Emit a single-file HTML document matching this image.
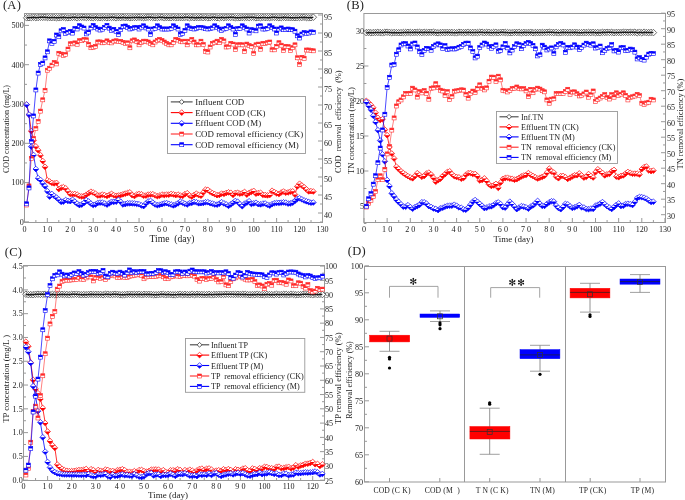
<!DOCTYPE html>
<html><head><meta charset="utf-8"><style>
html,body{margin:0;padding:0;background:#fff;width:685px;height:500px;overflow:hidden}
svg{display:block;will-change:transform}
text{font-family:"Liberation Serif",serif;white-space:pre}
</style></head><body>
<svg width="685" height="500" viewBox="0 0 685 500" font-family='"Liberation Serif", serif'>
<rect width="685" height="500" fill="#fff"/>
<defs><marker id="dR" markerUnits="userSpaceOnUse" markerWidth="10" markerHeight="10" refX="0" refY="0" overflow="visible" viewBox="-5 -5 10 10"><path d="M-2.85 0L0 -2.85L2.85 0L0 2.85Z" fill="#fff" stroke="#ff0000" stroke-width="0.7"/><path d="M-2.85 0L0 2.85L2.85 0Z" fill="#ff0000"/></marker><marker id="dB" markerUnits="userSpaceOnUse" markerWidth="10" markerHeight="10" refX="0" refY="0" overflow="visible" viewBox="-5 -5 10 10"><path d="M-2.85 0L0 -2.85L2.85 0L0 2.85Z" fill="#fff" stroke="#0000ff" stroke-width="0.7"/><path d="M-2.85 0L0 2.85L2.85 0Z" fill="#0000ff"/></marker><marker id="sR" markerUnits="userSpaceOnUse" markerWidth="10" markerHeight="10" refX="0" refY="0" overflow="visible" viewBox="-5 -5 10 10"><rect x="-2" y="-2" width="4" height="4" fill="#fff" stroke="#ff2a2a" stroke-width="0.6"/><rect x="-2" y="-2" width="4" height="1.9" fill="#ff2a2a"/></marker><marker id="sB" markerUnits="userSpaceOnUse" markerWidth="10" markerHeight="10" refX="0" refY="0" overflow="visible" viewBox="-5 -5 10 10"><rect x="-2" y="-2" width="4" height="4" fill="#fff" stroke="#0000ff" stroke-width="0.6"/><rect x="-2" y="-2" width="4" height="1.9" fill="#0000ff"/></marker><marker id="o" markerUnits="userSpaceOnUse" markerWidth="10" markerHeight="10" refX="0" refY="0" overflow="visible" viewBox="-5 -5 10 10"><path d="M-3.3 0L0 -3.3L3.3 0L0 3.3Z" fill="#fff" stroke="#4a4a4a" stroke-width="0.8"/></marker><marker id="ol" markerUnits="userSpaceOnUse" markerWidth="10" markerHeight="10" refX="0" refY="0" overflow="visible" viewBox="-5 -5 10 10"><path d="M-2.4 0L0 -2.4L2.4 0L0 2.4Z" fill="#fff" stroke="#333" stroke-width="0.8"/></marker></defs>
<rect x="24.5" y="13.5" width="298" height="209" stroke="#999" fill="none" stroke-width="1"/>
<line x1="24.4" y1="222.5" x2="24.4" y2="218" stroke="#999" stroke-width="1"/>
<text x="24.4" y="231.6" font-size="8.1" text-anchor="middle" fill="#222">0</text>
<line x1="47.33" y1="222.5" x2="47.33" y2="218" stroke="#999" stroke-width="1"/>
<text x="47.33" y="231.6" font-size="8.1" text-anchor="middle" fill="#222">1 0</text>
<line x1="70.26" y1="222.5" x2="70.26" y2="218" stroke="#999" stroke-width="1"/>
<text x="70.26" y="231.6" font-size="8.1" text-anchor="middle" fill="#222">2 0</text>
<line x1="93.19" y1="222.5" x2="93.19" y2="218" stroke="#999" stroke-width="1"/>
<text x="93.19" y="231.6" font-size="8.1" text-anchor="middle" fill="#222">3 0</text>
<line x1="116.12" y1="222.5" x2="116.12" y2="218" stroke="#999" stroke-width="1"/>
<text x="116.12" y="231.6" font-size="8.1" text-anchor="middle" fill="#222">4 0</text>
<line x1="139.05" y1="222.5" x2="139.05" y2="218" stroke="#999" stroke-width="1"/>
<text x="139.05" y="231.6" font-size="8.1" text-anchor="middle" fill="#222">5 0</text>
<line x1="161.98" y1="222.5" x2="161.98" y2="218" stroke="#999" stroke-width="1"/>
<text x="161.98" y="231.6" font-size="8.1" text-anchor="middle" fill="#222">6 0</text>
<line x1="184.91" y1="222.5" x2="184.91" y2="218" stroke="#999" stroke-width="1"/>
<text x="184.91" y="231.6" font-size="8.1" text-anchor="middle" fill="#222">7 0</text>
<line x1="207.84" y1="222.5" x2="207.84" y2="218" stroke="#999" stroke-width="1"/>
<text x="207.84" y="231.6" font-size="8.1" text-anchor="middle" fill="#222">8 0</text>
<line x1="230.77" y1="222.5" x2="230.77" y2="218" stroke="#999" stroke-width="1"/>
<text x="230.77" y="231.6" font-size="8.1" text-anchor="middle" fill="#222">9 0</text>
<line x1="253.7" y1="222.5" x2="253.7" y2="218" stroke="#999" stroke-width="1"/>
<text x="253.7" y="231.6" font-size="8.1" text-anchor="middle" fill="#222">100</text>
<line x1="276.63" y1="222.5" x2="276.63" y2="218" stroke="#999" stroke-width="1"/>
<text x="276.63" y="231.6" font-size="8.1" text-anchor="middle" fill="#222">110</text>
<line x1="299.56" y1="222.5" x2="299.56" y2="218" stroke="#999" stroke-width="1"/>
<text x="299.56" y="231.6" font-size="8.1" text-anchor="middle" fill="#222">120</text>
<line x1="322.49" y1="222.5" x2="322.49" y2="218" stroke="#999" stroke-width="1"/>
<text x="322.49" y="231.6" font-size="8.1" text-anchor="middle" fill="#222">130</text>
<line x1="35.86" y1="222.5" x2="35.86" y2="220" stroke="#999" stroke-width="1"/>
<line x1="58.8" y1="222.5" x2="58.8" y2="220" stroke="#999" stroke-width="1"/>
<line x1="81.72" y1="222.5" x2="81.72" y2="220" stroke="#999" stroke-width="1"/>
<line x1="104.66" y1="222.5" x2="104.66" y2="220" stroke="#999" stroke-width="1"/>
<line x1="127.59" y1="222.5" x2="127.59" y2="220" stroke="#999" stroke-width="1"/>
<line x1="150.52" y1="222.5" x2="150.52" y2="220" stroke="#999" stroke-width="1"/>
<line x1="173.45" y1="222.5" x2="173.45" y2="220" stroke="#999" stroke-width="1"/>
<line x1="196.38" y1="222.5" x2="196.38" y2="220" stroke="#999" stroke-width="1"/>
<line x1="219.31" y1="222.5" x2="219.31" y2="220" stroke="#999" stroke-width="1"/>
<line x1="242.24" y1="222.5" x2="242.24" y2="220" stroke="#999" stroke-width="1"/>
<line x1="265.17" y1="222.5" x2="265.17" y2="220" stroke="#999" stroke-width="1"/>
<line x1="288.09" y1="222.5" x2="288.09" y2="220" stroke="#999" stroke-width="1"/>
<line x1="311.02" y1="222.5" x2="311.02" y2="220" stroke="#999" stroke-width="1"/>
<line x1="24.5" y1="221.9" x2="29" y2="221.9" stroke="#999" stroke-width="1"/>
<text x="23.7" y="224.7" font-size="8.1" text-anchor="end" fill="#222">0</text>
<line x1="24.5" y1="182.6" x2="29" y2="182.6" stroke="#999" stroke-width="1"/>
<text x="23.7" y="185.4" font-size="8.1" text-anchor="end" fill="#222">100</text>
<line x1="24.5" y1="143.3" x2="29" y2="143.3" stroke="#999" stroke-width="1"/>
<text x="23.7" y="146.1" font-size="8.1" text-anchor="end" fill="#222">200</text>
<line x1="24.5" y1="104" x2="29" y2="104" stroke="#999" stroke-width="1"/>
<text x="23.7" y="106.8" font-size="8.1" text-anchor="end" fill="#222">300</text>
<line x1="24.5" y1="64.7" x2="29" y2="64.7" stroke="#999" stroke-width="1"/>
<text x="23.7" y="67.5" font-size="8.1" text-anchor="end" fill="#222">400</text>
<line x1="24.5" y1="25.4" x2="29" y2="25.4" stroke="#999" stroke-width="1"/>
<text x="23.7" y="28.2" font-size="8.1" text-anchor="end" fill="#222">500</text>
<line x1="24.5" y1="202.25" x2="27" y2="202.25" stroke="#999" stroke-width="1"/>
<line x1="24.5" y1="162.95" x2="27" y2="162.95" stroke="#999" stroke-width="1"/>
<line x1="24.5" y1="123.65" x2="27" y2="123.65" stroke="#999" stroke-width="1"/>
<line x1="24.5" y1="84.35" x2="27" y2="84.35" stroke="#999" stroke-width="1"/>
<line x1="24.5" y1="45.05" x2="27" y2="45.05" stroke="#999" stroke-width="1"/>
<line x1="322.5" y1="213" x2="318" y2="213" stroke="#999" stroke-width="1"/>
<text x="324" y="218.1" font-size="8.1" text-anchor="start" fill="#222">40</text>
<line x1="322.5" y1="195" x2="318" y2="195" stroke="#999" stroke-width="1"/>
<text x="324" y="200.1" font-size="8.1" text-anchor="start" fill="#222">45</text>
<line x1="322.5" y1="177" x2="318" y2="177" stroke="#999" stroke-width="1"/>
<text x="324" y="182.1" font-size="8.1" text-anchor="start" fill="#222">50</text>
<line x1="322.5" y1="159" x2="318" y2="159" stroke="#999" stroke-width="1"/>
<text x="324" y="164.1" font-size="8.1" text-anchor="start" fill="#222">55</text>
<line x1="322.5" y1="141" x2="318" y2="141" stroke="#999" stroke-width="1"/>
<text x="324" y="146.1" font-size="8.1" text-anchor="start" fill="#222">60</text>
<line x1="322.5" y1="123" x2="318" y2="123" stroke="#999" stroke-width="1"/>
<text x="324" y="128.1" font-size="8.1" text-anchor="start" fill="#222">65</text>
<line x1="322.5" y1="105" x2="318" y2="105" stroke="#999" stroke-width="1"/>
<text x="324" y="110.1" font-size="8.1" text-anchor="start" fill="#222">70</text>
<line x1="322.5" y1="87" x2="318" y2="87" stroke="#999" stroke-width="1"/>
<text x="324" y="92.1" font-size="8.1" text-anchor="start" fill="#222">75</text>
<line x1="322.5" y1="69" x2="318" y2="69" stroke="#999" stroke-width="1"/>
<text x="324" y="74.1" font-size="8.1" text-anchor="start" fill="#222">80</text>
<line x1="322.5" y1="51" x2="318" y2="51" stroke="#999" stroke-width="1"/>
<text x="324" y="56.1" font-size="8.1" text-anchor="start" fill="#222">85</text>
<line x1="322.5" y1="33" x2="318" y2="33" stroke="#999" stroke-width="1"/>
<text x="324" y="38.1" font-size="8.1" text-anchor="start" fill="#222">90</text>
<line x1="322.5" y1="15" x2="318" y2="15" stroke="#999" stroke-width="1"/>
<text x="324" y="20.1" font-size="8.1" text-anchor="start" fill="#222">95</text>
<line x1="322.5" y1="204" x2="320" y2="204" stroke="#999" stroke-width="1"/>
<line x1="322.5" y1="186" x2="320" y2="186" stroke="#999" stroke-width="1"/>
<line x1="322.5" y1="168" x2="320" y2="168" stroke="#999" stroke-width="1"/>
<line x1="322.5" y1="150" x2="320" y2="150" stroke="#999" stroke-width="1"/>
<line x1="322.5" y1="132" x2="320" y2="132" stroke="#999" stroke-width="1"/>
<line x1="322.5" y1="114" x2="320" y2="114" stroke="#999" stroke-width="1"/>
<line x1="322.5" y1="96" x2="320" y2="96" stroke="#999" stroke-width="1"/>
<line x1="322.5" y1="78" x2="320" y2="78" stroke="#999" stroke-width="1"/>
<line x1="322.5" y1="60" x2="320" y2="60" stroke="#999" stroke-width="1"/>
<line x1="322.5" y1="42" x2="320" y2="42" stroke="#999" stroke-width="1"/>
<line x1="322.5" y1="24" x2="320" y2="24" stroke="#999" stroke-width="1"/>
<line x1="322.5" y1="222" x2="320" y2="222" stroke="#999" stroke-width="1"/>
<rect x="363.9" y="13.5" width="301.6" height="209" stroke="#999" fill="none" stroke-width="1"/>
<line x1="364" y1="222.5" x2="364" y2="218" stroke="#999" stroke-width="1"/>
<text x="364" y="231.6" font-size="8.1" text-anchor="middle" fill="#222">0</text>
<line x1="387.15" y1="222.5" x2="387.15" y2="218" stroke="#999" stroke-width="1"/>
<text x="387.15" y="231.6" font-size="8.1" text-anchor="middle" fill="#222">1 0</text>
<line x1="410.3" y1="222.5" x2="410.3" y2="218" stroke="#999" stroke-width="1"/>
<text x="410.3" y="231.6" font-size="8.1" text-anchor="middle" fill="#222">2 0</text>
<line x1="433.45" y1="222.5" x2="433.45" y2="218" stroke="#999" stroke-width="1"/>
<text x="433.45" y="231.6" font-size="8.1" text-anchor="middle" fill="#222">3 0</text>
<line x1="456.6" y1="222.5" x2="456.6" y2="218" stroke="#999" stroke-width="1"/>
<text x="456.6" y="231.6" font-size="8.1" text-anchor="middle" fill="#222">4 0</text>
<line x1="479.75" y1="222.5" x2="479.75" y2="218" stroke="#999" stroke-width="1"/>
<text x="479.75" y="231.6" font-size="8.1" text-anchor="middle" fill="#222">5 0</text>
<line x1="502.9" y1="222.5" x2="502.9" y2="218" stroke="#999" stroke-width="1"/>
<text x="502.9" y="231.6" font-size="8.1" text-anchor="middle" fill="#222">6 0</text>
<line x1="526.05" y1="222.5" x2="526.05" y2="218" stroke="#999" stroke-width="1"/>
<text x="526.05" y="231.6" font-size="8.1" text-anchor="middle" fill="#222">7 0</text>
<line x1="549.2" y1="222.5" x2="549.2" y2="218" stroke="#999" stroke-width="1"/>
<text x="549.2" y="231.6" font-size="8.1" text-anchor="middle" fill="#222">8 0</text>
<line x1="572.35" y1="222.5" x2="572.35" y2="218" stroke="#999" stroke-width="1"/>
<text x="572.35" y="231.6" font-size="8.1" text-anchor="middle" fill="#222">9 0</text>
<line x1="595.5" y1="222.5" x2="595.5" y2="218" stroke="#999" stroke-width="1"/>
<text x="595.5" y="231.6" font-size="8.1" text-anchor="middle" fill="#222">100</text>
<line x1="618.65" y1="222.5" x2="618.65" y2="218" stroke="#999" stroke-width="1"/>
<text x="618.65" y="231.6" font-size="8.1" text-anchor="middle" fill="#222">110</text>
<line x1="641.8" y1="222.5" x2="641.8" y2="218" stroke="#999" stroke-width="1"/>
<text x="641.8" y="231.6" font-size="8.1" text-anchor="middle" fill="#222">120</text>
<line x1="664.95" y1="222.5" x2="664.95" y2="218" stroke="#999" stroke-width="1"/>
<text x="664.95" y="231.6" font-size="8.1" text-anchor="middle" fill="#222">130</text>
<line x1="375.57" y1="222.5" x2="375.57" y2="220" stroke="#999" stroke-width="1"/>
<line x1="398.73" y1="222.5" x2="398.73" y2="220" stroke="#999" stroke-width="1"/>
<line x1="421.88" y1="222.5" x2="421.88" y2="220" stroke="#999" stroke-width="1"/>
<line x1="445.02" y1="222.5" x2="445.02" y2="220" stroke="#999" stroke-width="1"/>
<line x1="468.18" y1="222.5" x2="468.18" y2="220" stroke="#999" stroke-width="1"/>
<line x1="491.32" y1="222.5" x2="491.32" y2="220" stroke="#999" stroke-width="1"/>
<line x1="514.48" y1="222.5" x2="514.48" y2="220" stroke="#999" stroke-width="1"/>
<line x1="537.62" y1="222.5" x2="537.62" y2="220" stroke="#999" stroke-width="1"/>
<line x1="560.77" y1="222.5" x2="560.77" y2="220" stroke="#999" stroke-width="1"/>
<line x1="583.92" y1="222.5" x2="583.92" y2="220" stroke="#999" stroke-width="1"/>
<line x1="607.08" y1="222.5" x2="607.08" y2="220" stroke="#999" stroke-width="1"/>
<line x1="630.22" y1="222.5" x2="630.22" y2="220" stroke="#999" stroke-width="1"/>
<line x1="653.38" y1="222.5" x2="653.38" y2="220" stroke="#999" stroke-width="1"/>
<line x1="363.9" y1="206" x2="368.4" y2="206" stroke="#999" stroke-width="1"/>
<text x="364.1" y="208.8" font-size="8.1" text-anchor="end" fill="#222">5</text>
<line x1="363.9" y1="171" x2="368.4" y2="171" stroke="#999" stroke-width="1"/>
<text x="364.1" y="173.8" font-size="8.1" text-anchor="end" fill="#222">10</text>
<line x1="363.9" y1="136" x2="368.4" y2="136" stroke="#999" stroke-width="1"/>
<text x="364.1" y="138.8" font-size="8.1" text-anchor="end" fill="#222">15</text>
<line x1="363.9" y1="101" x2="368.4" y2="101" stroke="#999" stroke-width="1"/>
<text x="364.1" y="103.8" font-size="8.1" text-anchor="end" fill="#222">20</text>
<line x1="363.9" y1="66" x2="368.4" y2="66" stroke="#999" stroke-width="1"/>
<text x="364.1" y="68.8" font-size="8.1" text-anchor="end" fill="#222">25</text>
<line x1="363.9" y1="31" x2="368.4" y2="31" stroke="#999" stroke-width="1"/>
<text x="364.1" y="33.8" font-size="8.1" text-anchor="end" fill="#222">30</text>
<line x1="363.9" y1="188.5" x2="366.4" y2="188.5" stroke="#999" stroke-width="1"/>
<line x1="363.9" y1="153.5" x2="366.4" y2="153.5" stroke="#999" stroke-width="1"/>
<line x1="363.9" y1="118.5" x2="366.4" y2="118.5" stroke="#999" stroke-width="1"/>
<line x1="363.9" y1="83.5" x2="366.4" y2="83.5" stroke="#999" stroke-width="1"/>
<line x1="363.9" y1="48.5" x2="366.4" y2="48.5" stroke="#999" stroke-width="1"/>
<line x1="363.9" y1="223.5" x2="366.4" y2="223.5" stroke="#999" stroke-width="1"/>
<line x1="665.5" y1="214.7" x2="661" y2="214.7" stroke="#999" stroke-width="1"/>
<text x="667" y="218.7" font-size="8.1" text-anchor="start" fill="#222">30</text>
<line x1="665.5" y1="199.2" x2="661" y2="199.2" stroke="#999" stroke-width="1"/>
<text x="667" y="203.2" font-size="8.1" text-anchor="start" fill="#222">35</text>
<line x1="665.5" y1="183.7" x2="661" y2="183.7" stroke="#999" stroke-width="1"/>
<text x="667" y="187.7" font-size="8.1" text-anchor="start" fill="#222">40</text>
<line x1="665.5" y1="168.2" x2="661" y2="168.2" stroke="#999" stroke-width="1"/>
<text x="667" y="172.2" font-size="8.1" text-anchor="start" fill="#222">45</text>
<line x1="665.5" y1="152.7" x2="661" y2="152.7" stroke="#999" stroke-width="1"/>
<text x="667" y="156.7" font-size="8.1" text-anchor="start" fill="#222">50</text>
<line x1="665.5" y1="137.2" x2="661" y2="137.2" stroke="#999" stroke-width="1"/>
<text x="667" y="141.2" font-size="8.1" text-anchor="start" fill="#222">55</text>
<line x1="665.5" y1="121.7" x2="661" y2="121.7" stroke="#999" stroke-width="1"/>
<text x="667" y="125.7" font-size="8.1" text-anchor="start" fill="#222">60</text>
<line x1="665.5" y1="106.2" x2="661" y2="106.2" stroke="#999" stroke-width="1"/>
<text x="667" y="110.2" font-size="8.1" text-anchor="start" fill="#222">65</text>
<line x1="665.5" y1="90.7" x2="661" y2="90.7" stroke="#999" stroke-width="1"/>
<text x="667" y="94.7" font-size="8.1" text-anchor="start" fill="#222">70</text>
<line x1="665.5" y1="75.2" x2="661" y2="75.2" stroke="#999" stroke-width="1"/>
<text x="667" y="79.2" font-size="8.1" text-anchor="start" fill="#222">75</text>
<line x1="665.5" y1="59.7" x2="661" y2="59.7" stroke="#999" stroke-width="1"/>
<text x="667" y="63.7" font-size="8.1" text-anchor="start" fill="#222">80</text>
<line x1="665.5" y1="44.2" x2="661" y2="44.2" stroke="#999" stroke-width="1"/>
<text x="667" y="48.2" font-size="8.1" text-anchor="start" fill="#222">85</text>
<line x1="665.5" y1="28.7" x2="661" y2="28.7" stroke="#999" stroke-width="1"/>
<text x="667" y="32.7" font-size="8.1" text-anchor="start" fill="#222">90</text>
<line x1="665.5" y1="13.2" x2="661" y2="13.2" stroke="#999" stroke-width="1"/>
<text x="667" y="17.2" font-size="8.1" text-anchor="start" fill="#222">95</text>
<line x1="665.5" y1="206.95" x2="663" y2="206.95" stroke="#999" stroke-width="1"/>
<line x1="665.5" y1="191.45" x2="663" y2="191.45" stroke="#999" stroke-width="1"/>
<line x1="665.5" y1="175.95" x2="663" y2="175.95" stroke="#999" stroke-width="1"/>
<line x1="665.5" y1="160.45" x2="663" y2="160.45" stroke="#999" stroke-width="1"/>
<line x1="665.5" y1="144.95" x2="663" y2="144.95" stroke="#999" stroke-width="1"/>
<line x1="665.5" y1="129.45" x2="663" y2="129.45" stroke="#999" stroke-width="1"/>
<line x1="665.5" y1="113.95" x2="663" y2="113.95" stroke="#999" stroke-width="1"/>
<line x1="665.5" y1="98.45" x2="663" y2="98.45" stroke="#999" stroke-width="1"/>
<line x1="665.5" y1="82.95" x2="663" y2="82.95" stroke="#999" stroke-width="1"/>
<line x1="665.5" y1="67.45" x2="663" y2="67.45" stroke="#999" stroke-width="1"/>
<line x1="665.5" y1="51.95" x2="663" y2="51.95" stroke="#999" stroke-width="1"/>
<line x1="665.5" y1="36.45" x2="663" y2="36.45" stroke="#999" stroke-width="1"/>
<line x1="665.5" y1="20.95" x2="663" y2="20.95" stroke="#999" stroke-width="1"/>
<rect x="23.5" y="265.5" width="301" height="215" stroke="#999" fill="none" stroke-width="1"/>
<line x1="23.5" y1="480.5" x2="23.5" y2="476" stroke="#999" stroke-width="1"/>
<text x="23.5" y="489.4" font-size="8.1" text-anchor="middle" fill="#222">0</text>
<line x1="47.6" y1="480.5" x2="47.6" y2="476" stroke="#999" stroke-width="1"/>
<text x="47.6" y="489.4" font-size="8.1" text-anchor="middle" fill="#222">1 0</text>
<line x1="71.7" y1="480.5" x2="71.7" y2="476" stroke="#999" stroke-width="1"/>
<text x="71.7" y="489.4" font-size="8.1" text-anchor="middle" fill="#222">2 0</text>
<line x1="95.8" y1="480.5" x2="95.8" y2="476" stroke="#999" stroke-width="1"/>
<text x="95.8" y="489.4" font-size="8.1" text-anchor="middle" fill="#222">3 0</text>
<line x1="119.9" y1="480.5" x2="119.9" y2="476" stroke="#999" stroke-width="1"/>
<text x="119.9" y="489.4" font-size="8.1" text-anchor="middle" fill="#222">4 0</text>
<line x1="144" y1="480.5" x2="144" y2="476" stroke="#999" stroke-width="1"/>
<text x="144" y="489.4" font-size="8.1" text-anchor="middle" fill="#222">5 0</text>
<line x1="168.1" y1="480.5" x2="168.1" y2="476" stroke="#999" stroke-width="1"/>
<text x="168.1" y="489.4" font-size="8.1" text-anchor="middle" fill="#222">6 0</text>
<line x1="192.2" y1="480.5" x2="192.2" y2="476" stroke="#999" stroke-width="1"/>
<text x="192.2" y="489.4" font-size="8.1" text-anchor="middle" fill="#222">7 0</text>
<line x1="216.3" y1="480.5" x2="216.3" y2="476" stroke="#999" stroke-width="1"/>
<text x="216.3" y="489.4" font-size="8.1" text-anchor="middle" fill="#222">8 0</text>
<line x1="240.4" y1="480.5" x2="240.4" y2="476" stroke="#999" stroke-width="1"/>
<text x="240.4" y="489.4" font-size="8.1" text-anchor="middle" fill="#222">9 0</text>
<line x1="264.5" y1="480.5" x2="264.5" y2="476" stroke="#999" stroke-width="1"/>
<text x="264.5" y="489.4" font-size="8.1" text-anchor="middle" fill="#222">100</text>
<line x1="288.6" y1="480.5" x2="288.6" y2="476" stroke="#999" stroke-width="1"/>
<text x="288.6" y="489.4" font-size="8.1" text-anchor="middle" fill="#222">110</text>
<line x1="312.7" y1="480.5" x2="312.7" y2="476" stroke="#999" stroke-width="1"/>
<text x="312.7" y="489.4" font-size="8.1" text-anchor="middle" fill="#222">120</text>
<line x1="35.55" y1="480.5" x2="35.55" y2="478" stroke="#999" stroke-width="1"/>
<line x1="59.65" y1="480.5" x2="59.65" y2="478" stroke="#999" stroke-width="1"/>
<line x1="83.75" y1="480.5" x2="83.75" y2="478" stroke="#999" stroke-width="1"/>
<line x1="107.85" y1="480.5" x2="107.85" y2="478" stroke="#999" stroke-width="1"/>
<line x1="131.95" y1="480.5" x2="131.95" y2="478" stroke="#999" stroke-width="1"/>
<line x1="156.05" y1="480.5" x2="156.05" y2="478" stroke="#999" stroke-width="1"/>
<line x1="180.15" y1="480.5" x2="180.15" y2="478" stroke="#999" stroke-width="1"/>
<line x1="204.25" y1="480.5" x2="204.25" y2="478" stroke="#999" stroke-width="1"/>
<line x1="228.35" y1="480.5" x2="228.35" y2="478" stroke="#999" stroke-width="1"/>
<line x1="252.45" y1="480.5" x2="252.45" y2="478" stroke="#999" stroke-width="1"/>
<line x1="276.55" y1="480.5" x2="276.55" y2="478" stroke="#999" stroke-width="1"/>
<line x1="300.65" y1="480.5" x2="300.65" y2="478" stroke="#999" stroke-width="1"/>
<line x1="23.5" y1="480.2" x2="28" y2="480.2" stroke="#999" stroke-width="1"/>
<text x="22.7" y="483" font-size="8.1" text-anchor="end" fill="#222">0.0</text>
<line x1="23.5" y1="456.41" x2="28" y2="456.41" stroke="#999" stroke-width="1"/>
<text x="22.7" y="459.21" font-size="8.1" text-anchor="end" fill="#222">0.5</text>
<line x1="23.5" y1="432.62" x2="28" y2="432.62" stroke="#999" stroke-width="1"/>
<text x="22.7" y="435.42" font-size="8.1" text-anchor="end" fill="#222">1.0</text>
<line x1="23.5" y1="408.83" x2="28" y2="408.83" stroke="#999" stroke-width="1"/>
<text x="22.7" y="411.63" font-size="8.1" text-anchor="end" fill="#222">1.5</text>
<line x1="23.5" y1="385.04" x2="28" y2="385.04" stroke="#999" stroke-width="1"/>
<text x="22.7" y="387.84" font-size="8.1" text-anchor="end" fill="#222">2.0</text>
<line x1="23.5" y1="361.25" x2="28" y2="361.25" stroke="#999" stroke-width="1"/>
<text x="22.7" y="364.05" font-size="8.1" text-anchor="end" fill="#222">2.5</text>
<line x1="23.5" y1="337.46" x2="28" y2="337.46" stroke="#999" stroke-width="1"/>
<text x="22.7" y="340.26" font-size="8.1" text-anchor="end" fill="#222">3.0</text>
<line x1="23.5" y1="313.67" x2="28" y2="313.67" stroke="#999" stroke-width="1"/>
<text x="22.7" y="316.47" font-size="8.1" text-anchor="end" fill="#222">3.5</text>
<line x1="23.5" y1="289.88" x2="28" y2="289.88" stroke="#999" stroke-width="1"/>
<text x="22.7" y="292.68" font-size="8.1" text-anchor="end" fill="#222">4.0</text>
<line x1="23.5" y1="266.09" x2="28" y2="266.09" stroke="#999" stroke-width="1"/>
<text x="22.7" y="268.89" font-size="8.1" text-anchor="end" fill="#222">4.5</text>
<line x1="23.5" y1="468.31" x2="26" y2="468.31" stroke="#999" stroke-width="1"/>
<line x1="23.5" y1="444.51" x2="26" y2="444.51" stroke="#999" stroke-width="1"/>
<line x1="23.5" y1="420.73" x2="26" y2="420.73" stroke="#999" stroke-width="1"/>
<line x1="23.5" y1="396.94" x2="26" y2="396.94" stroke="#999" stroke-width="1"/>
<line x1="23.5" y1="373.14" x2="26" y2="373.14" stroke="#999" stroke-width="1"/>
<line x1="23.5" y1="349.36" x2="26" y2="349.36" stroke="#999" stroke-width="1"/>
<line x1="23.5" y1="325.56" x2="26" y2="325.56" stroke="#999" stroke-width="1"/>
<line x1="23.5" y1="301.77" x2="26" y2="301.77" stroke="#999" stroke-width="1"/>
<line x1="23.5" y1="277.99" x2="26" y2="277.99" stroke="#999" stroke-width="1"/>
<line x1="324.5" y1="480.2" x2="320" y2="480.2" stroke="#999" stroke-width="1"/>
<text x="325" y="483.5" font-size="8.1" text-anchor="start" fill="#222">25</text>
<line x1="324.5" y1="465.93" x2="320" y2="465.93" stroke="#999" stroke-width="1"/>
<text x="325" y="469.23" font-size="8.1" text-anchor="start" fill="#222">30</text>
<line x1="324.5" y1="451.65" x2="320" y2="451.65" stroke="#999" stroke-width="1"/>
<text x="325" y="454.95" font-size="8.1" text-anchor="start" fill="#222">35</text>
<line x1="324.5" y1="437.38" x2="320" y2="437.38" stroke="#999" stroke-width="1"/>
<text x="325" y="440.68" font-size="8.1" text-anchor="start" fill="#222">40</text>
<line x1="324.5" y1="423.1" x2="320" y2="423.1" stroke="#999" stroke-width="1"/>
<text x="325" y="426.4" font-size="8.1" text-anchor="start" fill="#222">45</text>
<line x1="324.5" y1="408.82" x2="320" y2="408.82" stroke="#999" stroke-width="1"/>
<text x="325" y="412.12" font-size="8.1" text-anchor="start" fill="#222">50</text>
<line x1="324.5" y1="394.55" x2="320" y2="394.55" stroke="#999" stroke-width="1"/>
<text x="325" y="397.85" font-size="8.1" text-anchor="start" fill="#222">55</text>
<line x1="324.5" y1="380.27" x2="320" y2="380.27" stroke="#999" stroke-width="1"/>
<text x="325" y="383.57" font-size="8.1" text-anchor="start" fill="#222">60</text>
<line x1="324.5" y1="366" x2="320" y2="366" stroke="#999" stroke-width="1"/>
<text x="325" y="369.3" font-size="8.1" text-anchor="start" fill="#222">65</text>
<line x1="324.5" y1="351.73" x2="320" y2="351.73" stroke="#999" stroke-width="1"/>
<text x="325" y="355.03" font-size="8.1" text-anchor="start" fill="#222">70</text>
<line x1="324.5" y1="337.45" x2="320" y2="337.45" stroke="#999" stroke-width="1"/>
<text x="325" y="340.75" font-size="8.1" text-anchor="start" fill="#222">75</text>
<line x1="324.5" y1="323.17" x2="320" y2="323.17" stroke="#999" stroke-width="1"/>
<text x="325" y="326.47" font-size="8.1" text-anchor="start" fill="#222">80</text>
<line x1="324.5" y1="308.9" x2="320" y2="308.9" stroke="#999" stroke-width="1"/>
<text x="325" y="312.2" font-size="8.1" text-anchor="start" fill="#222">85</text>
<line x1="324.5" y1="294.62" x2="320" y2="294.62" stroke="#999" stroke-width="1"/>
<text x="325" y="297.93" font-size="8.1" text-anchor="start" fill="#222">90</text>
<line x1="324.5" y1="280.35" x2="320" y2="280.35" stroke="#999" stroke-width="1"/>
<text x="325" y="283.65" font-size="8.1" text-anchor="start" fill="#222">95</text>
<line x1="324.5" y1="266.07" x2="320" y2="266.07" stroke="#999" stroke-width="1"/>
<text x="325" y="269.38" font-size="8.1" text-anchor="start" fill="#222">100</text>
<line x1="324.5" y1="473.06" x2="322" y2="473.06" stroke="#999" stroke-width="1"/>
<line x1="324.5" y1="458.79" x2="322" y2="458.79" stroke="#999" stroke-width="1"/>
<line x1="324.5" y1="444.51" x2="322" y2="444.51" stroke="#999" stroke-width="1"/>
<line x1="324.5" y1="430.24" x2="322" y2="430.24" stroke="#999" stroke-width="1"/>
<line x1="324.5" y1="415.96" x2="322" y2="415.96" stroke="#999" stroke-width="1"/>
<line x1="324.5" y1="401.69" x2="322" y2="401.69" stroke="#999" stroke-width="1"/>
<line x1="324.5" y1="387.41" x2="322" y2="387.41" stroke="#999" stroke-width="1"/>
<line x1="324.5" y1="373.14" x2="322" y2="373.14" stroke="#999" stroke-width="1"/>
<line x1="324.5" y1="358.86" x2="322" y2="358.86" stroke="#999" stroke-width="1"/>
<line x1="324.5" y1="344.59" x2="322" y2="344.59" stroke="#999" stroke-width="1"/>
<line x1="324.5" y1="330.31" x2="322" y2="330.31" stroke="#999" stroke-width="1"/>
<line x1="324.5" y1="316.04" x2="322" y2="316.04" stroke="#999" stroke-width="1"/>
<line x1="324.5" y1="301.76" x2="322" y2="301.76" stroke="#999" stroke-width="1"/>
<line x1="324.5" y1="287.49" x2="322" y2="287.49" stroke="#999" stroke-width="1"/>
<line x1="324.5" y1="273.21" x2="322" y2="273.21" stroke="#999" stroke-width="1"/>
<text x="2.9" y="8.9" font-size="12.5" text-anchor="start" fill="#222" letter-spacing="0.3">(A)</text>
<text x="346.7" y="8.9" font-size="12.5" text-anchor="start" fill="#222" letter-spacing="0.3">(B)</text>
<text x="4.7" y="256.2" font-size="12.5" text-anchor="start" fill="#222" letter-spacing="0.3">(C)</text>
<text x="347.7" y="254.7" font-size="12.5" text-anchor="start" fill="#222" letter-spacing="0.3">(D)</text>
<text x="172" y="241.8" font-size="9.6" text-anchor="middle" fill="#222">Time  (day)</text>
<text x="513.5" y="242.2" font-size="9" text-anchor="middle" fill="#222">Time (day)</text>
<text x="168" y="498" font-size="9" text-anchor="middle" fill="#222">Time (day)</text>
<text x="8.6" y="129" font-size="8.1" text-anchor="middle" fill="#222" transform="rotate(-90 8.6 129)">COD concentration (mg/L)</text>
<text x="340.8" y="121.7" font-size="8.3" text-anchor="middle" fill="#222" transform="rotate(-90 340.8 121.7)">COD  removal  efficiency  (%)</text>
<text x="353.6" y="130.5" font-size="8.6" text-anchor="middle" fill="#222" transform="rotate(-90 353.6 130.5)">TN concentration (mg/L)</text>
<text x="683.2" y="124" font-size="8.4" text-anchor="middle" fill="#222" transform="rotate(-90 683.2 124)">TN removal efficiency (%)</text>
<text x="9.3" y="378.8" font-size="8.7" text-anchor="middle" fill="#222" transform="rotate(-90 9.3 378.8)">TP concentration (mg/L )</text>
<text x="340.6" y="378.2" font-size="8.65" text-anchor="middle" fill="#222" transform="rotate(-90 340.6 378.2)">TP removal efficiency (%)</text>
<text x="352" y="380" font-size="8.1" text-anchor="middle" fill="#222" transform="rotate(-90 352 380)">Removal efficiency (%)</text>
<polyline points="26.69,17.78 28.99,17.71 31.28,17.59 33.57,17.29 35.86,17.66 38.16,17.49 40.45,17.25 42.74,17.3 45.04,17.26 47.33,17.4 49.62,17.64 51.92,17.56 54.21,17.49 56.5,17.76 58.8,17.74 61.09,17.47 63.38,17.23 65.67,17.6 67.97,17.75 70.26,17.66 72.55,17.25 74.85,17.24 77.14,17.78 79.43,17.38 81.72,17.28 84.02,17.32 86.31,17.55 88.6,17.31 90.9,17.59 93.19,17.68 95.48,17.3 97.78,17.58 100.07,17.67 102.36,17.49 104.66,17.48 106.95,17.77 109.24,17.56 111.53,17.36 113.83,17.37 116.12,17.78 118.41,17.51 120.71,17.63 123,17.28 125.29,17.67 127.59,17.59 129.88,17.77 132.17,17.52 134.46,17.45 136.76,17.45 139.05,17.25 141.34,17.47 143.64,17.68 145.93,17.45 148.22,17.25 150.52,17.27 152.81,17.41 155.1,17.66 157.39,17.59 159.69,17.27 161.98,17.23 164.27,17.77 166.57,17.52 168.86,17.64 171.15,17.66 173.45,17.27 175.74,17.77 178.03,17.51 180.32,17.51 182.62,17.66 184.91,17.37 187.2,17.36 189.5,17.79 191.79,17.34 194.08,17.64 196.38,17.52 198.67,17.7 200.96,17.36 203.25,17.7 205.55,17.3 207.84,17.78 210.13,17.63 212.43,17.21 214.72,17.3 217.01,17.71 219.31,17.79 221.6,17.33 223.89,17.63 226.18,17.38 228.48,17.41 230.77,17.37 233.06,17.37 235.36,17.76 237.65,17.77 239.94,17.64 242.24,17.5 244.53,17.47 246.82,17.37 249.11,17.59 251.41,17.26 253.7,17.23 255.99,17.79 258.29,17.7 260.58,17.75 262.87,17.38 265.17,17.56 267.46,17.66 269.75,17.65 272.04,17.32 274.34,17.32 276.63,17.49 278.92,17.66 281.22,17.59 283.51,17.33 285.8,17.56 288.09,17.49 290.39,17.7 292.68,17.63 294.97,17.66 297.27,17.69 299.56,17.41 301.85,17.46 304.15,17.22 306.44,17.55 308.73,17.78 311.02,17.69 313.32,17.22" fill="none" stroke="#1a1a1a" stroke-width="0" marker-start="url(#o)" marker-mid="url(#o)" marker-end="url(#o)" stroke-opacity="0"/><polyline points="26.69,17.78 28.99,17.71 31.28,17.59 33.57,17.29 35.86,17.66 38.16,17.49 40.45,17.25 42.74,17.3 45.04,17.26 47.33,17.4 49.62,17.64 51.92,17.56 54.21,17.49 56.5,17.76 58.8,17.74 61.09,17.47 63.38,17.23 65.67,17.6 67.97,17.75 70.26,17.66 72.55,17.25 74.85,17.24 77.14,17.78 79.43,17.38 81.72,17.28 84.02,17.32 86.31,17.55 88.6,17.31 90.9,17.59 93.19,17.68 95.48,17.3 97.78,17.58 100.07,17.67 102.36,17.49 104.66,17.48 106.95,17.77 109.24,17.56 111.53,17.36 113.83,17.37 116.12,17.78 118.41,17.51 120.71,17.63 123,17.28 125.29,17.67 127.59,17.59 129.88,17.77 132.17,17.52 134.46,17.45 136.76,17.45 139.05,17.25 141.34,17.47 143.64,17.68 145.93,17.45 148.22,17.25 150.52,17.27 152.81,17.41 155.1,17.66 157.39,17.59 159.69,17.27 161.98,17.23 164.27,17.77 166.57,17.52 168.86,17.64 171.15,17.66 173.45,17.27 175.74,17.77 178.03,17.51 180.32,17.51 182.62,17.66 184.91,17.37 187.2,17.36 189.5,17.79 191.79,17.34 194.08,17.64 196.38,17.52 198.67,17.7 200.96,17.36 203.25,17.7 205.55,17.3 207.84,17.78 210.13,17.63 212.43,17.21 214.72,17.3 217.01,17.71 219.31,17.79 221.6,17.33 223.89,17.63 226.18,17.38 228.48,17.41 230.77,17.37 233.06,17.37 235.36,17.76 237.65,17.77 239.94,17.64 242.24,17.5 244.53,17.47 246.82,17.37 249.11,17.59 251.41,17.26 253.7,17.23 255.99,17.79 258.29,17.7 260.58,17.75 262.87,17.38 265.17,17.56 267.46,17.66 269.75,17.65 272.04,17.32 274.34,17.32 276.63,17.49 278.92,17.66 281.22,17.59 283.51,17.33 285.8,17.56 288.09,17.49 290.39,17.7 292.68,17.63 294.97,17.66 297.27,17.69 299.56,17.41 301.85,17.46 304.15,17.22 306.44,17.55 308.73,17.78 311.02,17.69 313.32,17.22" fill="none" stroke="#1a1a1a" stroke-width="1.5"/>
<polyline points="26.69,104.6 28.99,114.54 31.28,131.05 33.57,140.3 35.86,146.38 38.16,150.2 40.45,155.15 42.74,161 45.04,166.83 47.33,180.28 49.62,181.48 51.92,182.88 54.21,183.36 56.5,182.86 58.8,189.05 61.09,187.68 63.38,187.2 65.67,188.32 67.97,191.22 70.26,193.97 72.55,194.25 74.85,193.93 77.14,194.62 79.43,196.01 81.72,196.44 84.02,196.14 86.31,194.74 88.6,193.25 90.9,191.73 93.19,192.47 95.48,193.71 97.78,195.51 100.07,195.43 102.36,194.65 104.66,195.13 106.95,195.91 109.24,194.96 111.53,193.82 113.83,195.18 116.12,195.85 118.41,195.49 120.71,194.97 123,194.3 125.29,193.63 127.59,192.95 129.88,192.4 132.17,195.2 134.46,196 136.76,194.49 139.05,193.98 141.34,194.29 143.64,195.67 145.93,195.53 148.22,194.6 150.52,194.45 152.81,194.19 155.1,195.35 157.39,196.21 159.69,195.6 161.98,194.59 164.27,195.07 166.57,194.58 168.86,194.68 171.15,193.92 173.45,194.38 175.74,195.09 178.03,194.62 180.32,195.53 182.62,195.85 184.91,194.2 187.2,193.2 189.5,195.45 191.79,196.57 194.08,195.04 196.38,193.68 198.67,195.01 200.96,195.67 203.25,192.45 205.55,189.64 207.84,189.89 210.13,191.63 212.43,193.07 214.72,194.08 217.01,195.15 219.31,194.9 221.6,193.6 223.89,193.8 226.18,193 228.48,192.32 230.77,192.75 233.06,194.87 235.36,192.88 237.65,192.79 239.94,193.6 242.24,193.25 244.53,191.92 246.82,194.58 249.11,192.95 251.41,191.82 253.7,190.88 255.99,193.64 258.29,193.11 260.58,192.78 262.87,194.85 265.17,195.03 267.46,195.37 269.75,195.01 272.04,190.74 274.34,192.02 276.63,193.35 278.92,194.02 281.22,192.49 283.51,191.52 285.8,192.68 288.09,192.41 290.39,191.64 292.68,191.35 294.97,194.56 297.27,186.49 299.56,183.75 301.85,185.49 304.15,187.24 306.44,189.38 308.73,191.39 311.02,191.14 313.32,191.5" fill="none" stroke="#ff0000" stroke-width="0.8" marker-start="url(#dR)" marker-mid="url(#dR)" marker-end="url(#dR)"/>
<polyline points="26.69,104.6 28.99,114.54 31.28,146.6 33.57,155.03 35.86,169.03 38.16,178.14 40.45,179.91 42.74,183.34 45.04,186.25 47.33,191.13 49.62,196.54 51.92,193.97 54.21,195.82 56.5,197.61 58.8,199.5 61.09,201.79 63.38,201.59 65.67,200.03 67.97,200.86 70.26,201.15 72.55,199.75 74.85,201.65 77.14,203.69 79.43,205.09 81.72,204.53 84.02,203.02 86.31,200.1 88.6,201.5 90.9,203.6 93.19,205 95.48,204.52 97.78,203.01 100.07,202.6 102.36,202.6 104.66,203.49 106.95,204.58 109.24,203.32 111.53,201.8 113.83,201.8 116.12,201.63 118.41,199.89 120.71,201.81 123,204.47 125.29,204.03 127.59,203.3 129.88,203.3 132.17,203.3 134.46,203.47 136.76,203.83 139.05,204.23 141.34,205.36 143.64,206.09 145.93,203.44 148.22,201.45 150.52,200.9 152.81,202.65 155.1,204.41 157.39,205.19 159.69,204.72 161.98,204.12 164.27,203.44 166.57,203.04 168.86,203.85 171.15,204.53 173.45,205.39 175.74,204.55 178.03,203.3 180.32,201.59 182.62,202.68 184.91,203.71 187.2,204.52 189.5,203.26 191.79,202.81 194.08,201.88 196.38,202.22 198.67,203.28 200.96,203.14 203.25,202.92 205.55,202.22 207.84,202.18 210.13,203.07 212.43,203.56 214.72,204.51 217.01,204.63 219.31,203.71 221.6,202.19 223.89,203.39 226.18,204.37 228.48,205.79 230.77,204.51 233.06,202.7 235.36,200.99 237.65,201.76 239.94,204.22 242.24,206.24 244.53,203.66 246.82,202.6 249.11,201.25 251.41,203.94 253.7,203.36 255.99,202.75 258.29,204.16 260.58,204.37 262.87,203.6 265.17,203.49 267.46,204.77 269.75,205.59 272.04,204.19 274.34,203.25 276.63,202.9 278.92,202.88 281.22,202.71 283.51,202.35 285.8,202.63 288.09,203.59 290.39,203.43 292.68,202.66 294.97,200.84 297.27,199.02 299.56,198.18 301.85,199.33 304.15,200.47 306.44,201.28 308.73,202.04 311.02,202.67 313.32,202.5" fill="none" stroke="#0000ff" stroke-width="0.8" marker-start="url(#dB)" marker-mid="url(#dB)" marker-end="url(#dB)"/>
<polyline points="26.69,205 28.99,185.93 31.28,158.47 33.57,138.33 35.86,128.47 38.16,121.36 40.45,111.12 42.74,99.81 45.04,90.28 47.33,70.21 49.62,68.23 51.92,65.13 54.21,62.45 56.5,63.9 58.8,53.27 61.09,54.09 63.38,55.46 65.67,54.43 67.97,49.08 70.26,43.78 72.55,43.81 74.85,42.89 77.14,44.26 79.43,40.7 81.72,40.7 84.02,39.53 86.31,39.78 88.6,44.31 90.9,47.72 93.19,47.24 95.48,46.51 97.78,41.95 100.07,41.91 102.36,42.8 104.66,42.48 106.95,40.88 109.24,42.34 111.53,42.87 113.83,41.2 116.12,40.75 118.41,41.31 120.71,41.4 123,42.31 125.29,43.44 127.59,42.8 129.88,47.76 132.17,40.81 134.46,39.92 136.76,41.59 139.05,44.8 141.34,42.3 143.64,41.2 145.93,41.2 148.22,42 150.52,43.4 152.81,44.8 155.1,42 157.39,40.5 159.69,39.4 161.98,40.5 164.27,42 166.57,43.4 168.86,44.8 171.15,44.8 173.45,42.31 175.74,39.4 178.03,40.1 180.32,41.2 182.62,41.8 184.91,41.2 187.2,44.8 189.5,41.21 191.79,39.4 194.08,42 196.38,44.79 198.67,44.8 200.96,41.2 203.25,44.51 205.55,51.29 207.84,52 210.13,47 212.43,43.41 214.72,42.7 217.01,41.2 219.31,42.7 221.6,39.4 223.89,40.9 226.18,47 228.48,46.8 230.77,43.4 233.06,44.11 235.36,49.49 237.65,44.8 239.94,44.8 242.24,44.8 244.53,51.29 246.82,44.1 249.11,45.6 251.41,46.3 253.7,53.5 255.99,44.8 258.29,44.1 260.58,49.2 262.87,43.4 265.17,43.4 267.46,42.7 269.75,42 272.04,49.8 274.34,49.8 276.63,46.3 278.92,42.7 281.22,45.2 283.51,50.6 285.8,46.3 288.09,46.61 290.39,50.6 292.68,47.7 294.97,44.82 297.27,57.78 299.56,64.5 301.85,57.3 304.15,58.3 306.44,50 308.73,50 311.02,50.5 313.32,50.8" fill="none" stroke="#ff2a2a" stroke-width="0.6" marker-start="url(#sR)" marker-mid="url(#sR)" marker-end="url(#sR)"/>
<polyline points="26.69,203.8 28.99,187.91 31.28,141.61 33.57,115.92 35.86,89.93 38.16,73.05 40.45,64.48 42.74,63.11 45.04,57.91 47.33,51.79 49.62,40.84 51.92,43.45 54.21,41.29 56.5,34.99 58.8,36.73 61.09,30.82 63.38,29.58 65.67,33.35 67.97,32.27 70.26,31.39 72.55,33.09 74.85,28.51 77.14,28.98 79.43,25.7 81.72,27.01 84.02,28.05 86.31,33.86 88.6,32.12 90.9,27.91 93.19,25.41 95.48,27.48 97.78,29.01 100.07,30.04 102.36,29.17 104.66,27.33 106.95,25.36 109.24,28.14 111.53,30.38 113.83,29.31 116.12,31.28 118.41,34.47 120.71,29.62 123,26.45 125.29,26 127.59,27.32 129.88,28.98 132.17,28.47 134.46,27.7 136.76,27.59 139.05,29 141.34,27.2 143.64,25.8 145.93,27.9 148.22,29 150.52,34.39 152.81,29 155.1,28.3 157.39,25.8 159.69,27.6 161.98,29 164.27,29 166.57,29 168.86,29 171.15,28.3 173.45,25.81 175.74,27.6 178.03,29 180.32,34.4 182.62,33.5 184.91,30.4 187.2,25.8 189.5,27.9 191.79,28.7 194.08,29 196.38,28.3 198.67,27.6 200.96,27.6 203.25,27.9 205.55,28.7 207.84,29 210.13,28.7 212.43,27.9 214.72,25.8 217.01,27.6 219.31,29 221.6,30.4 223.89,29 226.18,28.3 228.48,25.8 230.77,27.6 233.06,29.01 235.36,34.39 237.65,28.7 239.94,28.3 242.24,25.81 244.53,27.6 246.82,29 249.11,32.99 251.41,29.7 253.7,30.1 255.99,30.79 258.29,26.11 260.58,25.8 262.87,29 265.17,29 267.46,28.3 269.75,25.8 272.04,27.6 274.34,29 276.63,33 278.92,29 281.22,27.9 283.51,29.7 285.8,29.7 288.09,29 290.39,29.7 292.68,29.7 294.97,31.21 297.27,35.79 299.56,38 301.85,34 304.15,32.6 306.44,33.3 308.73,33 311.02,31.9 313.32,32.2" fill="none" stroke="#0000ff" stroke-width="0.7" marker-start="url(#sB)" marker-mid="url(#sB)" marker-end="url(#sB)"/>
<polyline points="366.31,32.67 368.63,32.43 370.94,32.74 373.26,32.63 375.57,32.45 377.89,32.45 380.2,32.57 382.52,32.8 384.83,32.29 387.15,32.22 389.46,32.39 391.78,32.74 394.1,32.52 396.41,32.67 398.73,32.71 401.04,32.64 403.36,32.57 405.67,32.52 407.99,32.34 410.3,32.48 412.62,32.61 414.93,32.37 417.25,32.41 419.56,32.29 421.88,32.57 424.19,32.3 426.5,32.56 428.82,32.31 431.13,32.42 433.45,32.21 435.76,32.68 438.08,32.8 440.39,32.58 442.71,32.42 445.02,32.56 447.34,32.35 449.65,32.52 451.97,32.48 454.28,32.65 456.6,32.8 458.91,32.24 461.23,32.4 463.55,32.58 465.86,32.55 468.18,32.25 470.49,32.59 472.81,32.5 475.12,32.47 477.44,32.6 479.75,32.27 482.06,32.27 484.38,32.64 486.69,32.34 489.01,32.42 491.32,32.75 493.64,32.46 495.95,32.41 498.27,32.73 500.59,32.33 502.9,32.31 505.22,32.43 507.53,32.62 509.85,32.72 512.16,32.73 514.48,32.37 516.79,32.51 519.11,32.4 521.42,32.74 523.74,32.33 526.05,32.61 528.37,32.49 530.68,32.27 533,32.71 535.31,32.54 537.62,32.56 539.94,32.5 542.25,32.56 544.57,32.43 546.88,32.36 549.2,32.23 551.51,32.34 553.83,32.6 556.14,32.4 558.46,32.8 560.77,32.62 563.09,32.37 565.4,32.39 567.72,32.59 570.03,32.44 572.35,32.58 574.66,32.33 576.98,32.54 579.29,32.7 581.61,32.67 583.92,32.44 586.24,32.56 588.56,32.4 590.87,32.56 593.18,32.34 595.5,32.69 597.82,32.56 600.13,32.75 602.44,32.32 604.76,32.43 607.08,32.32 609.39,32.36 611.7,32.32 614.02,32.66 616.34,32.43 618.65,32.42 620.96,32.58 623.28,32.27 625.6,32.25 627.91,32.43 630.22,32.28 632.54,32.28 634.86,32.24 637.17,32.77 639.49,32.24 641.8,32.79 644.12,32.22 646.43,32.58 648.75,32.57 651.06,32.45 653.38,32.61" fill="none" stroke="#1a1a1a" stroke-width="0" marker-start="url(#o)" marker-mid="url(#o)" marker-end="url(#o)" stroke-opacity="0"/><polyline points="366.31,32.67 368.63,32.43 370.94,32.74 373.26,32.63 375.57,32.45 377.89,32.45 380.2,32.57 382.52,32.8 384.83,32.29 387.15,32.22 389.46,32.39 391.78,32.74 394.1,32.52 396.41,32.67 398.73,32.71 401.04,32.64 403.36,32.57 405.67,32.52 407.99,32.34 410.3,32.48 412.62,32.61 414.93,32.37 417.25,32.41 419.56,32.29 421.88,32.57 424.19,32.3 426.5,32.56 428.82,32.31 431.13,32.42 433.45,32.21 435.76,32.68 438.08,32.8 440.39,32.58 442.71,32.42 445.02,32.56 447.34,32.35 449.65,32.52 451.97,32.48 454.28,32.65 456.6,32.8 458.91,32.24 461.23,32.4 463.55,32.58 465.86,32.55 468.18,32.25 470.49,32.59 472.81,32.5 475.12,32.47 477.44,32.6 479.75,32.27 482.06,32.27 484.38,32.64 486.69,32.34 489.01,32.42 491.32,32.75 493.64,32.46 495.95,32.41 498.27,32.73 500.59,32.33 502.9,32.31 505.22,32.43 507.53,32.62 509.85,32.72 512.16,32.73 514.48,32.37 516.79,32.51 519.11,32.4 521.42,32.74 523.74,32.33 526.05,32.61 528.37,32.49 530.68,32.27 533,32.71 535.31,32.54 537.62,32.56 539.94,32.5 542.25,32.56 544.57,32.43 546.88,32.36 549.2,32.23 551.51,32.34 553.83,32.6 556.14,32.4 558.46,32.8 560.77,32.62 563.09,32.37 565.4,32.39 567.72,32.59 570.03,32.44 572.35,32.58 574.66,32.33 576.98,32.54 579.29,32.7 581.61,32.67 583.92,32.44 586.24,32.56 588.56,32.4 590.87,32.56 593.18,32.34 595.5,32.69 597.82,32.56 600.13,32.75 602.44,32.32 604.76,32.43 607.08,32.32 609.39,32.36 611.7,32.32 614.02,32.66 616.34,32.43 618.65,32.42 620.96,32.58 623.28,32.27 625.6,32.25 627.91,32.43 630.22,32.28 632.54,32.28 634.86,32.24 637.17,32.77 639.49,32.24 641.8,32.79 644.12,32.22 646.43,32.58 648.75,32.57 651.06,32.45 653.38,32.61" fill="none" stroke="#1a1a1a" stroke-width="1.5"/>
<polyline points="366.31,100.85 368.63,102.61 370.94,105.02 373.26,107.75 375.57,112.75 377.89,117.83 380.2,120.02 382.52,119.13 384.83,129.64 387.15,135.18 389.46,146.96 391.78,153.55 394.1,158.48 396.41,166.71 398.73,169.03 401.04,171.34 403.36,173.1 405.67,174.65 407.99,176.15 410.3,177.45 412.62,178.28 414.93,176.16 417.25,173.22 419.56,175.03 421.88,176.77 424.19,175.98 426.5,173.5 428.82,172.62 431.13,174.51 433.45,177.77 435.76,181.72 438.08,180.16 440.39,178.77 442.71,175.98 445.02,174.2 447.34,171.98 449.65,171.29 451.97,174.16 454.28,176.07 456.6,176.97 458.91,177.36 461.23,178.68 463.55,177.91 465.86,174.77 468.18,173.15 470.49,172.99 472.81,173.97 475.12,173.98 477.44,176.07 479.75,180.38 482.06,179.97 484.38,178.38 486.69,180.96 489.01,184.36 491.32,185.91 493.64,185.42 495.95,183.91 498.27,187.86 500.59,182.54 502.9,178.86 505.22,178.07 507.53,177.72 509.85,178.56 512.16,178.84 514.48,179.7 516.79,179.22 519.11,177.82 521.42,176.41 523.74,175.52 526.05,174.94 528.37,173.12 530.68,174.72 533,175.99 535.31,177.32 537.62,178.52 539.94,177.74 542.25,176.83 544.57,175.76 546.88,172.68 549.2,168.62 551.51,171.52 553.83,172.48 556.14,176.62 558.46,178.23 560.77,176.02 563.09,175.92 565.4,177.15 567.72,178.88 570.03,177.75 572.35,176.47 574.66,175.31 576.98,175.22 579.29,173.42 581.61,175.51 583.92,177.56 586.24,176.82 588.56,174.08 590.87,176.05 593.18,177.48 595.5,172.22 597.82,169.32 600.13,171.12 602.44,172.88 604.76,175.38 607.08,174.34 609.39,173.86 611.7,171.32 614.02,169.91 616.34,176.56 618.65,177.26 620.96,175.91 623.28,175.39 625.6,173.58 627.91,171.93 630.22,172.85 632.54,173.68 634.86,173.66 637.17,173.64 639.49,174.46 641.8,169.08 644.12,167.1 646.43,166.52 648.75,170.36 651.06,171.09 653.38,170.61" fill="none" stroke="#ff0000" stroke-width="0.8" marker-start="url(#dR)" marker-mid="url(#dR)" marker-end="url(#dR)"/>
<polyline points="366.31,101.93 368.63,105.73 370.94,109.62 373.26,115.71 375.57,122.02 377.89,130.18 380.2,140.52 382.52,154.4 384.83,161.34 387.15,180.03 389.46,186.07 391.78,193.32 394.1,196.29 396.41,199.71 398.73,202.03 401.04,204.34 403.36,206.66 405.67,206.71 407.99,205.2 410.3,207.05 412.62,208.72 414.93,207.16 417.25,206.07 419.56,204.81 421.88,202.24 424.19,202.3 426.5,203.62 428.82,206.07 431.13,207.02 433.45,208.41 435.76,208.95 438.08,210.06 440.39,208.33 442.71,207.73 445.02,206.71 447.34,205.9 449.65,205.66 451.97,205.63 454.28,204.74 456.6,205.72 458.91,207.29 461.23,207.76 463.55,209.38 465.86,209.69 468.18,207.63 470.49,204.64 472.81,201.64 475.12,200.08 477.44,201.77 479.75,203.94 482.06,205.78 484.38,208.06 486.69,207.67 489.01,206.43 491.32,206.31 493.64,205 495.95,203.18 498.27,202.42 500.59,204.12 502.9,207.19 505.22,207.6 507.53,204.41 509.85,201.68 512.16,203.95 514.48,206.46 516.79,209.13 519.11,207.59 521.42,206.14 523.74,206.65 526.05,207.31 528.37,208.58 530.68,206.58 533,205.44 535.31,203.24 537.62,200.92 539.94,203.76 542.25,205.78 544.57,205.87 546.88,203.91 549.2,202.31 551.51,201.27 553.83,201.53 556.14,205.47 558.46,207.9 560.77,209.2 563.09,206.98 565.4,203.87 567.72,204.33 570.03,206.34 572.35,207.87 574.66,207.33 576.98,206.29 579.29,204.95 581.61,207.27 583.92,207.52 586.24,208.83 588.56,209.24 590.87,208.63 593.18,208.83 595.5,205.73 597.82,204.72 600.13,203.63 602.44,202.08 604.76,204.2 607.08,206.17 609.39,207.67 611.7,208.95 614.02,207.11 616.34,204.88 618.65,203.46 620.96,206.01 623.28,205.63 625.6,204.1 627.91,203.75 630.22,204.19 632.54,204.99 634.86,201.87 637.17,198.03 639.49,196.96 641.8,197.18 644.12,197.69 646.43,198.7 648.75,200.33 651.06,201.93 653.38,201.73" fill="none" stroke="#0000ff" stroke-width="0.8" marker-start="url(#dB)" marker-mid="url(#dB)" marker-end="url(#dB)"/>
<polyline points="366.31,207.03 368.63,203.56 370.94,200.28 373.26,196.44 375.57,191.51 377.89,179.62 380.2,175.76 382.52,179.71 384.83,169.34 387.15,153.89 389.46,146.56 391.78,130.09 394.1,117.92 396.41,105.98 398.73,101.75 401.04,99.95 403.36,96.86 405.67,93.49 407.99,93.5 410.3,93.25 412.62,88.17 414.93,89.95 417.25,97.03 419.56,91.6 421.88,92.9 424.19,90.58 426.5,93.28 428.82,99.18 431.13,88.23 433.45,87.87 435.76,83.7 438.08,87.66 440.39,90.21 442.71,90.98 445.02,95.41 447.34,91.63 449.65,99.29 451.97,96.47 454.28,91.21 456.6,90.89 458.91,90.36 461.23,89.84 463.55,90.06 465.86,94.43 468.18,98.12 470.49,93.31 472.81,91.07 475.12,92.68 477.44,88.26 479.75,84.84 482.06,88.21 484.38,89.9 486.69,87.88 489.01,81.27 491.32,77.09 493.64,77.23 495.95,81.48 498.27,76.21 500.59,79.82 502.9,90.28 505.22,90.85 507.53,91.94 509.85,90.42 512.16,88.63 514.48,88.27 516.79,86.98 519.11,88.65 521.42,88.89 523.74,88.69 526.05,90.88 528.37,96.67 530.68,89.3 533,92.74 535.31,89.56 537.62,88.18 539.94,89.08 542.25,90.7 544.57,91.8 546.88,99.92 549.2,103.21 551.51,99.17 553.83,98.76 556.14,93.64 558.46,93.66 560.77,93.55 563.09,93.36 565.4,91.47 567.72,89.27 570.03,94.26 572.35,92 574.66,91.86 576.98,93.71 579.29,95.94 581.61,95.57 583.92,93.9 586.24,92.04 588.56,97.2 590.87,94.62 593.18,90.98 595.5,101.45 597.82,99.39 600.13,98.03 602.44,96.59 604.76,94.63 607.08,97.54 609.39,99.02 611.7,94.62 614.02,97.22 616.34,92.81 618.65,95.35 620.96,94.18 623.28,92.82 625.6,95.34 627.91,99.92 630.22,97.67 632.54,96.79 634.86,96.02 637.17,94.3 639.49,95.69 641.8,103.2 644.12,104.53 646.43,102.91 648.75,102.23 651.06,99.26 653.38,99.94" fill="none" stroke="#ff2a2a" stroke-width="0.6" marker-start="url(#sR)" marker-mid="url(#sR)" marker-end="url(#sR)"/>
<polyline points="366.31,206.2 368.63,198.76 370.94,193.66 373.26,184.15 375.57,175.72 377.89,162.7 380.2,148.09 382.52,129.93 384.83,114.22 387.15,87.48 389.46,77.28 391.78,65 394.1,64.52 396.41,54.21 398.73,49.72 401.04,44.98 403.36,43.82 405.67,43.67 407.99,45.99 410.3,48.88 412.62,43.89 414.93,43 417.25,46.95 419.56,51.4 421.88,54.49 424.19,50.47 426.5,48.3 428.82,48.71 431.13,50.24 433.45,46.53 435.76,44.92 438.08,43.83 440.39,44.93 442.71,48.52 445.02,45.6 447.34,49.37 449.65,49 451.97,48.76 454.28,49 456.6,48.41 458.91,47.27 461.23,46.44 463.55,44.39 465.86,43.17 468.18,43.13 470.49,47.87 472.81,51.5 475.12,57.9 477.44,56.17 479.75,47.59 482.06,44.98 484.38,43.01 486.69,44.03 489.01,46.56 491.32,48.24 493.64,46.27 495.95,44.85 498.27,51.21 500.59,50.31 502.9,46.84 505.22,43.44 507.53,47.83 509.85,52.88 512.16,50.01 514.48,46.65 516.79,43.78 519.11,44.72 521.42,48.7 523.74,45.38 526.05,43.68 528.37,42.42 530.68,43.47 533,45.38 535.31,48.75 537.62,55.9 539.94,54.74 542.25,45.18 544.57,47.19 546.88,49.95 549.2,48.94 551.51,47.88 553.83,53.62 556.14,46.8 558.46,44.54 560.77,43.47 563.09,44.91 565.4,52.32 567.72,47.32 570.03,47.75 572.35,47.01 574.66,44.82 576.98,47.08 579.29,49.68 581.61,47.35 583.92,45.11 586.24,43.19 588.56,44.27 590.87,45.13 593.18,43.77 595.5,48.05 597.82,47.57 600.13,46.06 602.44,52.73 604.76,50.28 607.08,48.44 609.39,47.79 611.7,44.57 614.02,50.91 616.34,50.28 618.65,52.07 620.96,47.76 623.28,47.57 625.6,50.67 627.91,50.31 630.22,49.07 632.54,49.65 634.86,52.13 637.17,58.92 639.49,57.63 641.8,59.32 644.12,60.09 646.43,57.06 648.75,54.13 651.06,53.37 653.38,53.67" fill="none" stroke="#0000ff" stroke-width="0.7" marker-start="url(#sB)" marker-mid="url(#sB)" marker-end="url(#sB)"/>
<polyline points="25.91,294.22 28.32,294.63 30.73,294.58 33.14,294.7 35.55,294.3 37.96,294.22 40.37,294.35 42.78,294.3 45.19,294.22 47.6,294.5 50.01,294.68 52.42,294.34 54.83,294.77 57.24,294.77 59.65,294.44 62.06,294.33 64.47,294.49 66.88,294.48 69.29,294.72 71.7,294.34 74.11,294.33 76.52,294.22 78.93,294.49 81.34,294.74 83.75,294.53 86.16,294.71 88.57,294.42 90.98,294.32 93.39,294.52 95.8,294.39 98.21,294.5 100.62,294.41 103.03,294.77 105.44,294.27 107.85,294.26 110.26,294.64 112.67,294.36 115.08,294.28 117.49,294.33 119.9,294.76 122.31,294.77 124.72,294.66 127.13,294.41 129.54,294.26 131.95,294.44 134.36,294.4 136.77,294.45 139.18,294.28 141.59,294.71 144,294.34 146.41,294.39 148.82,294.37 151.23,294.48 153.64,294.75 156.05,294.76 158.46,294.69 160.87,294.31 163.28,294.32 165.69,294.78 168.1,294.36 170.51,294.65 172.92,294.8 175.33,294.77 177.74,294.55 180.15,294.26 182.56,294.72 184.97,294.37 187.38,294.67 189.79,294.74 192.2,294.22 194.61,294.73 197.02,294.28 199.43,294.49 201.84,294.52 204.25,294.67 206.66,294.63 209.07,294.35 211.48,294.8 213.89,294.54 216.3,294.51 218.71,294.27 221.12,294.5 223.53,294.36 225.94,294.27 228.35,294.24 230.76,294.37 233.17,294.37 235.58,294.38 237.99,294.32 240.4,294.46 242.81,294.39 245.22,294.32 247.63,294.67 250.04,294.7 252.45,294.58 254.86,294.66 257.27,294.23 259.68,294.71 262.09,294.62 264.5,294.75 266.91,294.37 269.32,294.63 271.73,294.57 274.14,294.73 276.55,294.24 278.96,294.66 281.37,294.54 283.78,294.38 286.19,294.4 288.6,294.76 291.01,294.21 293.42,294.43 295.83,294.76 298.24,294.64 300.65,294.63 303.06,294.34 305.47,294.27 307.88,294.26 310.29,294.47 312.7,294.78 315.11,294.23 317.52,294.67 319.93,294.34 322.34,294.54" fill="none" stroke="#1a1a1a" stroke-width="0" marker-start="url(#o)" marker-mid="url(#o)" marker-end="url(#o)" stroke-opacity="0"/><polyline points="25.91,294.22 28.32,294.63 30.73,294.58 33.14,294.7 35.55,294.3 37.96,294.22 40.37,294.35 42.78,294.3 45.19,294.22 47.6,294.5 50.01,294.68 52.42,294.34 54.83,294.77 57.24,294.77 59.65,294.44 62.06,294.33 64.47,294.49 66.88,294.48 69.29,294.72 71.7,294.34 74.11,294.33 76.52,294.22 78.93,294.49 81.34,294.74 83.75,294.53 86.16,294.71 88.57,294.42 90.98,294.32 93.39,294.52 95.8,294.39 98.21,294.5 100.62,294.41 103.03,294.77 105.44,294.27 107.85,294.26 110.26,294.64 112.67,294.36 115.08,294.28 117.49,294.33 119.9,294.76 122.31,294.77 124.72,294.66 127.13,294.41 129.54,294.26 131.95,294.44 134.36,294.4 136.77,294.45 139.18,294.28 141.59,294.71 144,294.34 146.41,294.39 148.82,294.37 151.23,294.48 153.64,294.75 156.05,294.76 158.46,294.69 160.87,294.31 163.28,294.32 165.69,294.78 168.1,294.36 170.51,294.65 172.92,294.8 175.33,294.77 177.74,294.55 180.15,294.26 182.56,294.72 184.97,294.37 187.38,294.67 189.79,294.74 192.2,294.22 194.61,294.73 197.02,294.28 199.43,294.49 201.84,294.52 204.25,294.67 206.66,294.63 209.07,294.35 211.48,294.8 213.89,294.54 216.3,294.51 218.71,294.27 221.12,294.5 223.53,294.36 225.94,294.27 228.35,294.24 230.76,294.37 233.17,294.37 235.58,294.38 237.99,294.32 240.4,294.46 242.81,294.39 245.22,294.32 247.63,294.67 250.04,294.7 252.45,294.58 254.86,294.66 257.27,294.23 259.68,294.71 262.09,294.62 264.5,294.75 266.91,294.37 269.32,294.63 271.73,294.57 274.14,294.73 276.55,294.24 278.96,294.66 281.37,294.54 283.78,294.38 286.19,294.4 288.6,294.76 291.01,294.21 293.42,294.43 295.83,294.76 298.24,294.64 300.65,294.63 303.06,294.34 305.47,294.27 307.88,294.26 310.29,294.47 312.7,294.78 315.11,294.23 317.52,294.67 319.93,294.34 322.34,294.54" fill="none" stroke="#1a1a1a" stroke-width="1.5"/>
<polyline points="25.91,341.7 28.32,346.27 30.73,362.54 33.14,379.87 35.55,388.92 37.96,393.18 40.37,398.9 42.78,408.04 45.19,423.02 47.6,431.54 50.01,441.04 52.42,445.18 54.83,447.83 57.24,464.54 59.65,466.95 62.06,468.84 64.47,470.17 66.88,470.77 69.29,471.1 71.7,471.1 74.11,471 76.52,470.52 78.93,470.03 81.34,469.99 83.75,469.76 86.16,468.96 88.57,471.02 90.98,469.23 93.39,470.09 95.8,471.82 98.21,470.02 100.62,470.77 103.03,471.27 105.44,469.64 107.85,470 110.26,471.21 112.67,470.94 115.08,471.7 117.49,470.21 119.9,469.8 122.31,469.2 124.72,470.21 127.13,472.01 129.54,471.75 131.95,472.22 134.36,471.17 136.77,471.87 139.18,470.11 141.59,469.92 144,471.08 146.41,471.76 148.82,471.09 151.23,469.71 153.64,469.67 156.05,469.46 158.46,469.6 160.87,471.37 163.28,470.2 165.69,471.89 168.1,472.62 170.51,470.29 172.92,470.29 175.33,470.65 177.74,469.31 180.15,469.99 182.56,471.86 184.97,470.13 187.38,470.92 189.79,469.74 192.2,470.65 194.61,472.06 197.02,470.44 199.43,469.05 201.84,468.65 204.25,469.92 206.66,468.79 209.07,468.47 211.48,469.64 213.89,471.51 216.3,470.71 218.71,470.26 221.12,470.8 223.53,469.25 225.94,470.09 228.35,469.11 230.76,470.05 233.17,471.57 235.58,469.3 237.99,469.86 240.4,470.22 242.81,468.7 245.22,468.27 247.63,470.29 250.04,471.08 252.45,468.47 254.86,469.05 257.27,470.12 259.68,468.26 262.09,468.58 264.5,466.85 266.91,467.07 269.32,468.12 271.73,468.25 274.14,468.83 276.55,466.8 278.96,466.67 281.37,468.21 283.78,467.93 286.19,467.31 288.6,466.81 291.01,468.35 293.42,467.55 295.83,465.26 298.24,466.62 300.65,465.51 303.06,464.99 305.47,463.77 307.88,463.69 310.29,462.99 312.7,462.01 315.11,464.18 317.52,463.9 319.93,465.93 322.34,464.45" fill="none" stroke="#ff0000" stroke-width="0.8" marker-start="url(#dR)" marker-mid="url(#dR)" marker-end="url(#dR)"/>
<polyline points="25.91,347.1 28.32,351.69 30.73,362.89 33.14,386.15 35.55,395.82 37.96,411.18 40.37,422.28 42.78,437.32 45.19,451.7 47.6,461.95 50.01,467.38 52.42,470.59 54.83,472.12 57.24,473.31 59.65,473.79 62.06,474.27 64.47,474.43 66.88,474.47 69.29,474.51 71.7,474.54 74.11,474.58 76.52,474.62 78.93,474.66 81.34,474.91 83.75,474.63 86.16,474.95 88.57,474.05 90.98,475.41 93.39,476.08 95.8,475.91 98.21,474.43 100.62,474.82 103.03,474.42 105.44,474.02 107.85,475.87 110.26,476.82 112.67,474.5 115.08,475.82 117.49,475.67 119.9,474.96 122.31,474.36 124.72,475.22 127.13,474.97 129.54,475.52 131.95,475.7 134.36,474.26 136.77,475.44 139.18,476.59 141.59,477.07 144,476.26 146.41,474.25 148.82,473.23 151.23,473.15 153.64,475.44 156.05,474.63 158.46,474.45 160.87,475.9 163.28,474.87 165.69,475.08 168.1,474.85 170.51,473.68 172.92,474.65 175.33,475.84 177.74,474.38 180.15,473.93 182.56,474.26 184.97,473.33 187.38,474.24 189.79,475.58 192.2,475.68 194.61,475.34 197.02,476.1 199.43,474.38 201.84,474.79 204.25,474.39 206.66,474.85 209.07,473.62 211.48,474.96 213.89,473.58 216.3,473.14 218.71,474.77 221.12,475.91 223.53,474.94 225.94,474.45 228.35,473.74 230.76,473.51 233.17,474.39 235.58,473.52 237.99,472.96 240.4,473.68 242.81,473.16 245.22,474.33 247.63,475.35 250.04,475.68 252.45,474.91 254.86,474.15 257.27,474.03 259.68,472.7 262.09,474.11 264.5,473.61 266.91,473.32 269.32,472.46 271.73,473.15 274.14,473.86 276.55,473.62 278.96,474.9 281.37,474.9 283.78,473.66 286.19,473.92 288.6,475.15 291.01,474.53 293.42,474.38 295.83,472.69 298.24,473.1 300.65,473.09 303.06,472.68 305.47,472.39 307.88,472.57 310.29,472.35 312.7,472.15 315.11,471.57 317.52,472.32 319.93,474.41 322.34,473.97" fill="none" stroke="#0000ff" stroke-width="0.8" marker-start="url(#dB)" marker-mid="url(#dB)" marker-end="url(#dB)"/>
<polyline points="25.91,474.97 28.32,468.55 30.73,442.24 33.14,411.31 35.55,406.17 37.96,417.98 40.37,395.57 42.78,375.76 45.19,353.72 47.6,338.15 50.01,323.91 52.42,316.32 54.83,311.41 57.24,289.15 59.65,286.09 62.06,281.48 64.47,280.56 66.88,280.05 69.29,280.19 71.7,279.85 74.11,279.74 76.52,279.63 78.93,277.13 81.34,279.16 83.75,279.27 86.16,277.87 88.57,276.64 90.98,276.98 93.39,280.87 95.8,277.45 98.21,277.74 100.62,278.5 103.03,277.53 105.44,279.56 107.85,277.61 110.26,275.68 112.67,274.9 115.08,275.9 117.49,277.43 119.9,277.62 122.31,276.78 124.72,277.65 127.13,277.46 129.54,276.56 131.95,275.83 134.36,275.25 136.77,274.89 139.18,274.55 141.59,275.26 144,278.73 146.41,276.94 148.82,276.69 151.23,276.37 153.64,276.52 156.05,276.27 158.46,275.53 160.87,275.8 163.28,276.78 165.69,278.5 168.1,278.72 170.51,276.88 172.92,276.29 175.33,275.38 177.74,276.12 180.15,276.48 182.56,275.56 184.97,275.54 187.38,275.8 189.79,275.67 192.2,275 194.61,276.16 197.02,279.51 199.43,281.09 201.84,278.42 204.25,278.42 206.66,279.65 209.07,278.5 211.48,278.45 213.89,276.87 216.3,279.6 218.71,281.9 221.12,281.65 223.53,276.72 225.94,284.84 228.35,285.71 230.76,281.61 233.17,278.78 235.58,277.85 237.99,276.84 240.4,275.78 242.81,278.03 245.22,279.2 247.63,279.97 250.04,279.9 252.45,279.32 254.86,281.64 257.27,285.46 259.68,284.91 262.09,285.97 264.5,288.7 266.91,284.21 269.32,283.52 271.73,285.19 274.14,280.35 276.55,280.2 278.96,282.76 281.37,282.44 283.78,283.03 286.19,284.21 288.6,279.96 291.01,280.94 293.42,285.72 295.83,285.72 298.24,282.8 300.65,283.18 303.06,286.46 305.47,288.06 307.88,284.58 310.29,290.68 312.7,291.94 315.11,291.06 317.52,288.29 319.93,289.55 322.34,289.1" fill="none" stroke="#ff2a2a" stroke-width="0.6" marker-start="url(#sR)" marker-mid="url(#sR)" marker-end="url(#sR)"/>
<polyline points="25.91,470.21 28.32,465.09 30.73,448.52 33.14,411.99 35.55,396.13 37.96,379.08 40.37,357.13 42.78,329.76 45.19,310.57 47.6,294.66 50.01,285.57 52.42,278.79 54.83,275.43 57.24,274.84 59.65,271.85 62.06,274.19 64.47,275.9 66.88,274.98 69.29,276.07 71.7,274.32 74.11,272.98 76.52,273.41 78.93,271.62 81.34,273.2 83.75,275.2 86.16,274.2 88.57,272.69 90.98,271.6 93.39,271.6 95.8,271.6 98.21,273.41 100.62,272.62 103.03,270.37 105.44,276.02 107.85,276.75 110.26,273.39 112.67,272.2 115.08,273 117.49,273.5 119.9,272.13 122.31,273.14 124.72,275.01 127.13,272.64 129.54,269.94 131.95,272.67 134.36,271.66 136.77,272.48 139.18,271.7 141.59,271.6 144,271.6 146.41,273.77 148.82,273.9 151.23,273.4 153.64,273.52 156.05,272.33 158.46,270.56 160.87,270.76 163.28,272.66 165.69,271.72 168.1,272.49 170.51,274.61 172.92,274.43 175.33,271.88 177.74,271.6 180.15,271.95 182.56,273.33 184.97,271.97 187.38,273.31 189.79,271.21 192.2,270 194.61,271.65 197.02,271.8 199.43,271.8 201.84,271.8 204.25,271.8 206.66,273.08 209.07,272.6 211.48,271.6 213.89,273.21 216.3,272.59 218.71,272.9 221.12,272.61 223.53,272.88 225.94,271.8 228.35,273.4 230.76,277.28 233.17,278.21 235.58,275.07 237.99,272.67 240.4,273.12 242.81,276.98 245.22,275.4 247.63,272.41 250.04,273.35 252.45,273.98 254.86,274.14 257.27,274.48 259.68,274.36 262.09,274.83 264.5,276.46 266.91,277.29 269.32,274.95 271.73,272.78 274.14,272.97 276.55,274.07 278.96,272.46 281.37,272.17 283.78,274.94 286.19,273.48 288.6,272.08 291.01,271.92 293.42,272.08 295.83,272.23 298.24,273.94 300.65,274.93 303.06,275.59 305.47,276.89 307.88,275.6 310.29,276.07 312.7,277.65 315.11,278.56 317.52,277.8 319.93,277.77 322.34,276.1" fill="none" stroke="#0000ff" stroke-width="0.7" marker-start="url(#sB)" marker-mid="url(#sB)" marker-end="url(#sB)"/>
<rect x="167.5" y="96.5" width="138" height="57" stroke="#999" fill="#fff" stroke-width="0.9"/>
<line x1="170.8" y1="101.9" x2="192.6" y2="101.9" stroke="#444" stroke-width="1.1"/>
<polyline points="181.7,101.9" fill="none" stroke="#444" stroke-width="0" marker-start="url(#ol)" marker-mid="url(#ol)" marker-end="url(#ol)"/>
<text x="195.2" y="104.9" font-size="8.9" text-anchor="start" fill="#222">Influent COD</text>
<line x1="170.8" y1="112.6" x2="192.6" y2="112.6" stroke="#ff0000" stroke-width="1.1"/>
<polyline points="181.7,112.6" fill="none" stroke="#ff0000" stroke-width="0" marker-start="url(#dR)" marker-mid="url(#dR)" marker-end="url(#dR)"/>
<text x="195.2" y="115.6" font-size="8.9" text-anchor="start" fill="#222">Effluent COD (CK)</text>
<line x1="170.8" y1="123.3" x2="192.6" y2="123.3" stroke="#0000ff" stroke-width="1.1"/>
<polyline points="181.7,123.3" fill="none" stroke="#0000ff" stroke-width="0" marker-start="url(#dB)" marker-mid="url(#dB)" marker-end="url(#dB)"/>
<text x="195.2" y="126.3" font-size="8.9" text-anchor="start" fill="#222">Effluent COD (M)</text>
<line x1="170.8" y1="134" x2="192.6" y2="134" stroke="#ff2a2a" stroke-width="1.1"/>
<polyline points="181.7,134" fill="none" stroke="#ff2a2a" stroke-width="0" marker-start="url(#sR)" marker-mid="url(#sR)" marker-end="url(#sR)"/>
<text x="195.2" y="137" font-size="8.9" text-anchor="start" fill="#222">COD removal efficiency (CK)</text>
<line x1="170.8" y1="144.7" x2="192.6" y2="144.7" stroke="#0000ff" stroke-width="1.1"/>
<polyline points="181.7,144.7" fill="none" stroke="#0000ff" stroke-width="0" marker-start="url(#sB)" marker-mid="url(#sB)" marker-end="url(#sB)"/>
<text x="195.2" y="147.7" font-size="8.9" text-anchor="start" fill="#222">COD removal efficiency (M)</text>
<rect x="496.5" y="111.5" width="121" height="52" stroke="#999" fill="#fff" stroke-width="0.9"/>
<line x1="499.5" y1="116.8" x2="518.6" y2="116.8" stroke="#444" stroke-width="1.1"/>
<polyline points="509.05,116.8" fill="none" stroke="#444" stroke-width="0" marker-start="url(#ol)" marker-mid="url(#ol)" marker-end="url(#ol)"/>
<text x="521.1" y="119.8" font-size="8.1" text-anchor="start" fill="#222">Inf.TN</text>
<line x1="499.5" y1="126.9" x2="518.6" y2="126.9" stroke="#ff0000" stroke-width="1.1"/>
<polyline points="509.05,126.9" fill="none" stroke="#ff0000" stroke-width="0" marker-start="url(#dR)" marker-mid="url(#dR)" marker-end="url(#dR)"/>
<text x="521.1" y="129.9" font-size="8.1" text-anchor="start" fill="#222">Effluent TN (CK)</text>
<line x1="499.5" y1="136.9" x2="518.6" y2="136.9" stroke="#0000ff" stroke-width="1.1"/>
<polyline points="509.05,136.9" fill="none" stroke="#0000ff" stroke-width="0" marker-start="url(#dB)" marker-mid="url(#dB)" marker-end="url(#dB)"/>
<text x="521.1" y="139.9" font-size="8.1" text-anchor="start" fill="#222">Effluent TN (M)</text>
<line x1="499.5" y1="147.2" x2="518.6" y2="147.2" stroke="#ff2a2a" stroke-width="1.1"/>
<polyline points="509.05,147.2" fill="none" stroke="#ff2a2a" stroke-width="0" marker-start="url(#sR)" marker-mid="url(#sR)" marker-end="url(#sR)"/>
<text x="521.1" y="150.2" font-size="8.1" text-anchor="start" fill="#222">TN  removal efficiency (CK)</text>
<line x1="499.5" y1="157.4" x2="518.6" y2="157.4" stroke="#0000ff" stroke-width="1.1"/>
<polyline points="509.05,157.4" fill="none" stroke="#0000ff" stroke-width="0" marker-start="url(#sB)" marker-mid="url(#sB)" marker-end="url(#sB)"/>
<text x="521.1" y="160.4" font-size="8.1" text-anchor="start" fill="#222">TN  removal efficiency (M)</text>
<rect x="185.5" y="338.5" width="119.3" height="53.8" stroke="#999" fill="#fff" stroke-width="0.9"/>
<line x1="189.9" y1="344.8" x2="209.2" y2="344.8" stroke="#444" stroke-width="1.1"/>
<polyline points="199.55,344.8" fill="none" stroke="#444" stroke-width="0" marker-start="url(#ol)" marker-mid="url(#ol)" marker-end="url(#ol)"/>
<text x="211.1" y="347.8" font-size="8.1" text-anchor="start" fill="#222">Influent TP</text>
<line x1="189.9" y1="355.1" x2="209.2" y2="355.1" stroke="#ff0000" stroke-width="1.1"/>
<polyline points="199.55,355.1" fill="none" stroke="#ff0000" stroke-width="0" marker-start="url(#dR)" marker-mid="url(#dR)" marker-end="url(#dR)"/>
<text x="211.1" y="358.1" font-size="8.1" text-anchor="start" fill="#222">Effluent TP (CK)</text>
<line x1="189.9" y1="365.5" x2="209.2" y2="365.5" stroke="#0000ff" stroke-width="1.1"/>
<polyline points="199.55,365.5" fill="none" stroke="#0000ff" stroke-width="0" marker-start="url(#dB)" marker-mid="url(#dB)" marker-end="url(#dB)"/>
<text x="211.1" y="368.5" font-size="8.1" text-anchor="start" fill="#222">Effluent TP (M)</text>
<line x1="189.9" y1="376" x2="209.2" y2="376" stroke="#ff2a2a" stroke-width="1.1"/>
<polyline points="199.55,376" fill="none" stroke="#ff2a2a" stroke-width="0" marker-start="url(#sR)" marker-mid="url(#sR)" marker-end="url(#sR)"/>
<text x="211.1" y="379" font-size="8.1" text-anchor="start" fill="#222">TP  removal efficiency (CK)</text>
<line x1="189.9" y1="386.4" x2="209.2" y2="386.4" stroke="#0000ff" stroke-width="1.1"/>
<polyline points="199.55,386.4" fill="none" stroke="#0000ff" stroke-width="0" marker-start="url(#sB)" marker-mid="url(#sB)" marker-end="url(#sB)"/>
<text x="211.1" y="389.4" font-size="8.1" text-anchor="start" fill="#222">TP  removal efficiency (M)</text>
<rect x="364.5" y="266.5" width="301" height="215.5" stroke="#999" fill="none" stroke-width="1"/>
<line x1="464.5" y1="266.5" x2="464.5" y2="482" stroke="#999" stroke-width="1"/>
<line x1="565.5" y1="266.5" x2="565.5" y2="482" stroke="#999" stroke-width="1"/>
<line x1="364.5" y1="481.8" x2="369" y2="481.8" stroke="#999" stroke-width="1"/>
<text x="363" y="485.2" font-size="8.1" text-anchor="end" fill="#222">60</text>
<line x1="364.5" y1="468.3" x2="367" y2="468.3" stroke="#999" stroke-width="1"/>
<line x1="364.5" y1="454.8" x2="369" y2="454.8" stroke="#999" stroke-width="1"/>
<text x="363" y="458.2" font-size="8.1" text-anchor="end" fill="#222">65</text>
<line x1="364.5" y1="441.3" x2="367" y2="441.3" stroke="#999" stroke-width="1"/>
<line x1="364.5" y1="427.8" x2="369" y2="427.8" stroke="#999" stroke-width="1"/>
<text x="363" y="431.2" font-size="8.1" text-anchor="end" fill="#222">70</text>
<line x1="364.5" y1="414.3" x2="367" y2="414.3" stroke="#999" stroke-width="1"/>
<line x1="364.5" y1="400.8" x2="369" y2="400.8" stroke="#999" stroke-width="1"/>
<text x="363" y="404.2" font-size="8.1" text-anchor="end" fill="#222">75</text>
<line x1="364.5" y1="387.3" x2="367" y2="387.3" stroke="#999" stroke-width="1"/>
<line x1="364.5" y1="373.8" x2="369" y2="373.8" stroke="#999" stroke-width="1"/>
<text x="363" y="377.2" font-size="8.1" text-anchor="end" fill="#222">80</text>
<line x1="364.5" y1="360.3" x2="367" y2="360.3" stroke="#999" stroke-width="1"/>
<line x1="364.5" y1="346.8" x2="369" y2="346.8" stroke="#999" stroke-width="1"/>
<text x="363" y="350.2" font-size="8.1" text-anchor="end" fill="#222">85</text>
<line x1="364.5" y1="333.3" x2="367" y2="333.3" stroke="#999" stroke-width="1"/>
<line x1="364.5" y1="319.8" x2="369" y2="319.8" stroke="#999" stroke-width="1"/>
<text x="363" y="323.2" font-size="8.1" text-anchor="end" fill="#222">90</text>
<line x1="364.5" y1="306.3" x2="367" y2="306.3" stroke="#999" stroke-width="1"/>
<line x1="364.5" y1="292.8" x2="369" y2="292.8" stroke="#999" stroke-width="1"/>
<text x="363" y="296.2" font-size="8.1" text-anchor="end" fill="#222">95</text>
<line x1="364.5" y1="279.3" x2="367" y2="279.3" stroke="#999" stroke-width="1"/>
<line x1="364.5" y1="265.8" x2="369" y2="265.8" stroke="#999" stroke-width="1"/>
<text x="363" y="269.2" font-size="8.1" text-anchor="end" fill="#222">100</text>
<line x1="389.5" y1="482" x2="389.5" y2="478" stroke="#999" stroke-width="1"/>
<text x="392" y="493" font-size="7.6" text-anchor="middle" fill="#222" letter-spacing="0.2">COD (C K)</text>
<line x1="439.8" y1="482" x2="439.8" y2="478" stroke="#999" stroke-width="1"/>
<text x="442.3" y="493" font-size="7.6" text-anchor="middle" fill="#222" letter-spacing="0.2">COD (M  )</text>
<line x1="489.7" y1="482" x2="489.7" y2="478" stroke="#999" stroke-width="1"/>
<text x="492.2" y="493" font-size="7.6" text-anchor="middle" fill="#222" letter-spacing="0.2">T N (C K)</text>
<line x1="540" y1="482" x2="540" y2="478" stroke="#999" stroke-width="1"/>
<text x="542.5" y="493" font-size="7.6" text-anchor="middle" fill="#222" letter-spacing="0.2">TN (M)</text>
<line x1="590.2" y1="482" x2="590.2" y2="478" stroke="#999" stroke-width="1"/>
<text x="592.7" y="493" font-size="7.6" text-anchor="middle" fill="#222" letter-spacing="0.2">TP (CK)</text>
<line x1="640" y1="482" x2="640" y2="478" stroke="#999" stroke-width="1"/>
<text x="642.5" y="493" font-size="7.6" text-anchor="middle" fill="#222" letter-spacing="0.2">TP (M)</text>
<line x1="389.5" y1="331.3" x2="389.5" y2="351.3" stroke="#777" stroke-width="0.8"/>
<line x1="379.5" y1="331.3" x2="399.5" y2="331.3" stroke="#888" stroke-width="0.8"/>
<line x1="379.5" y1="351.3" x2="399.5" y2="351.3" stroke="#888" stroke-width="0.8"/>
<rect x="369.6" y="335.2" width="40.1" height="6.7" fill="#ff0000" stroke="#ff0000" stroke-width="0.5"/>
<rect x="387" y="336.1" width="5" height="5" fill="none" stroke="#333" stroke-width="0.7"/>
<circle cx="389.5" cy="357.3" r="1.6" fill="#000"/>
<circle cx="389.5" cy="359" r="1.6" fill="#000"/>
<circle cx="389.5" cy="368" r="1.6" fill="#000"/>
<line x1="440" y1="310.9" x2="440" y2="321.5" stroke="#777" stroke-width="0.8"/>
<line x1="430" y1="310.9" x2="450" y2="310.9" stroke="#888" stroke-width="0.8"/>
<line x1="430" y1="321.5" x2="450" y2="321.5" stroke="#888" stroke-width="0.8"/>
<rect x="420" y="314" width="39.7" height="3.4" fill="#0000ff" stroke="#0000ff" stroke-width="0.5"/>
<rect x="437.5" y="313.8" width="5" height="5" fill="none" stroke="#333" stroke-width="0.7"/>
<circle cx="440" cy="322.9" r="1.6" fill="#000"/>
<circle cx="440" cy="324.8" r="1.6" fill="#000"/>
<circle cx="440" cy="328.7" r="1.6" fill="#000"/>
<line x1="489.7" y1="408.2" x2="489.7" y2="454.3" stroke="#777" stroke-width="0.8"/>
<line x1="479.7" y1="408.2" x2="499.7" y2="408.2" stroke="#888" stroke-width="0.8"/>
<line x1="479.7" y1="454.3" x2="499.7" y2="454.3" stroke="#888" stroke-width="0.8"/>
<rect x="469.9" y="426.5" width="40" height="12.5" fill="#ff0000" stroke="#ff0000" stroke-width="0.5"/>
<line x1="469.9" y1="431.4" x2="509.9" y2="431.4" stroke="#222" stroke-width="0.7"/>
<rect x="487.2" y="429.5" width="5" height="5" fill="none" stroke="#333" stroke-width="0.7"/>
<circle cx="489.7" cy="402.8" r="1.6" fill="#000"/>
<circle cx="489.7" cy="404.2" r="1.6" fill="#000"/>
<line x1="540" y1="345.3" x2="540" y2="371.2" stroke="#777" stroke-width="0.8"/>
<line x1="530" y1="345.3" x2="550" y2="345.3" stroke="#888" stroke-width="0.8"/>
<line x1="530" y1="371.2" x2="550" y2="371.2" stroke="#888" stroke-width="0.8"/>
<rect x="520" y="349.6" width="39.9" height="9.1" fill="#0000ff" stroke="#0000ff" stroke-width="0.5"/>
<line x1="520" y1="354.9" x2="559.9" y2="354.9" stroke="#222" stroke-width="0.7"/>
<rect x="537.5" y="352.4" width="5" height="5" fill="none" stroke="#333" stroke-width="0.7"/>
<circle cx="540" cy="374.3" r="1.6" fill="#000"/>
<line x1="590" y1="283.3" x2="590" y2="312.1" stroke="#777" stroke-width="0.8"/>
<line x1="580" y1="283.3" x2="600" y2="283.3" stroke="#888" stroke-width="0.8"/>
<line x1="580" y1="312.1" x2="600" y2="312.1" stroke="#888" stroke-width="0.8"/>
<rect x="570.1" y="288.3" width="39.8" height="9.6" fill="#ff0000" stroke="#ff0000" stroke-width="0.5"/>
<line x1="570.1" y1="292.4" x2="609.9" y2="292.4" stroke="#222" stroke-width="0.7"/>
<rect x="587.5" y="291.8" width="5" height="5" fill="none" stroke="#333" stroke-width="0.7"/>
<circle cx="590" cy="314.8" r="1.6" fill="#000"/>
<circle cx="590" cy="316.5" r="1.6" fill="#000"/>
<line x1="640" y1="274.6" x2="640" y2="292.4" stroke="#777" stroke-width="0.8"/>
<line x1="630" y1="274.6" x2="650" y2="274.6" stroke="#888" stroke-width="0.8"/>
<line x1="630" y1="292.4" x2="650" y2="292.4" stroke="#888" stroke-width="0.8"/>
<rect x="620" y="279" width="40" height="5.2" fill="#0000ff" stroke="#0000ff" stroke-width="0.5"/>
<line x1="620" y1="281.6" x2="660" y2="281.6" stroke="#222" stroke-width="0.7"/>
<rect x="637.5" y="279.5" width="5" height="5" fill="none" stroke="#333" stroke-width="0.7"/>
<path d="M389.5 297.7V286.4H438V297.7" fill="none" stroke="#999" stroke-width="0.9"/>
<path d="M490.7 297.7V287.6H539.7V297.7" fill="none" stroke="#999" stroke-width="0.9"/>
<path d="M413.3 281.3L413.3 277.9M413.3 281.3L413.3 284.7M413.3 281.3L416.24 279.6M413.3 281.3L410.36 279.6M413.3 281.3L410.36 283M413.3 281.3L416.24 283" stroke="#111" stroke-width="0.8" fill="none"/><circle cx="413.3" cy="278.8" r="0.85" fill="#111"/><circle cx="413.3" cy="283.8" r="0.85" fill="#111"/><circle cx="415.47" cy="280.05" r="0.85" fill="#111"/><circle cx="411.13" cy="280.05" r="0.85" fill="#111"/><circle cx="411.13" cy="282.55" r="0.85" fill="#111"/><circle cx="415.47" cy="282.55" r="0.85" fill="#111"/>
<path d="M512.3 282.3L512.3 278.9M512.3 282.3L512.3 285.7M512.3 282.3L515.24 280.6M512.3 282.3L509.36 280.6M512.3 282.3L509.36 284M512.3 282.3L515.24 284" stroke="#111" stroke-width="0.8" fill="none"/><circle cx="512.3" cy="279.8" r="0.85" fill="#111"/><circle cx="512.3" cy="284.8" r="0.85" fill="#111"/><circle cx="514.47" cy="281.05" r="0.85" fill="#111"/><circle cx="510.13" cy="281.05" r="0.85" fill="#111"/><circle cx="510.13" cy="283.55" r="0.85" fill="#111"/><circle cx="514.47" cy="283.55" r="0.85" fill="#111"/>
<path d="M521.1 282.3L521.1 278.9M521.1 282.3L521.1 285.7M521.1 282.3L524.04 280.6M521.1 282.3L518.16 280.6M521.1 282.3L518.16 284M521.1 282.3L524.04 284" stroke="#111" stroke-width="0.8" fill="none"/><circle cx="521.1" cy="279.8" r="0.85" fill="#111"/><circle cx="521.1" cy="284.8" r="0.85" fill="#111"/><circle cx="523.27" cy="281.05" r="0.85" fill="#111"/><circle cx="518.93" cy="281.05" r="0.85" fill="#111"/><circle cx="518.93" cy="283.55" r="0.85" fill="#111"/><circle cx="523.27" cy="283.55" r="0.85" fill="#111"/>
</svg>
</body></html>
